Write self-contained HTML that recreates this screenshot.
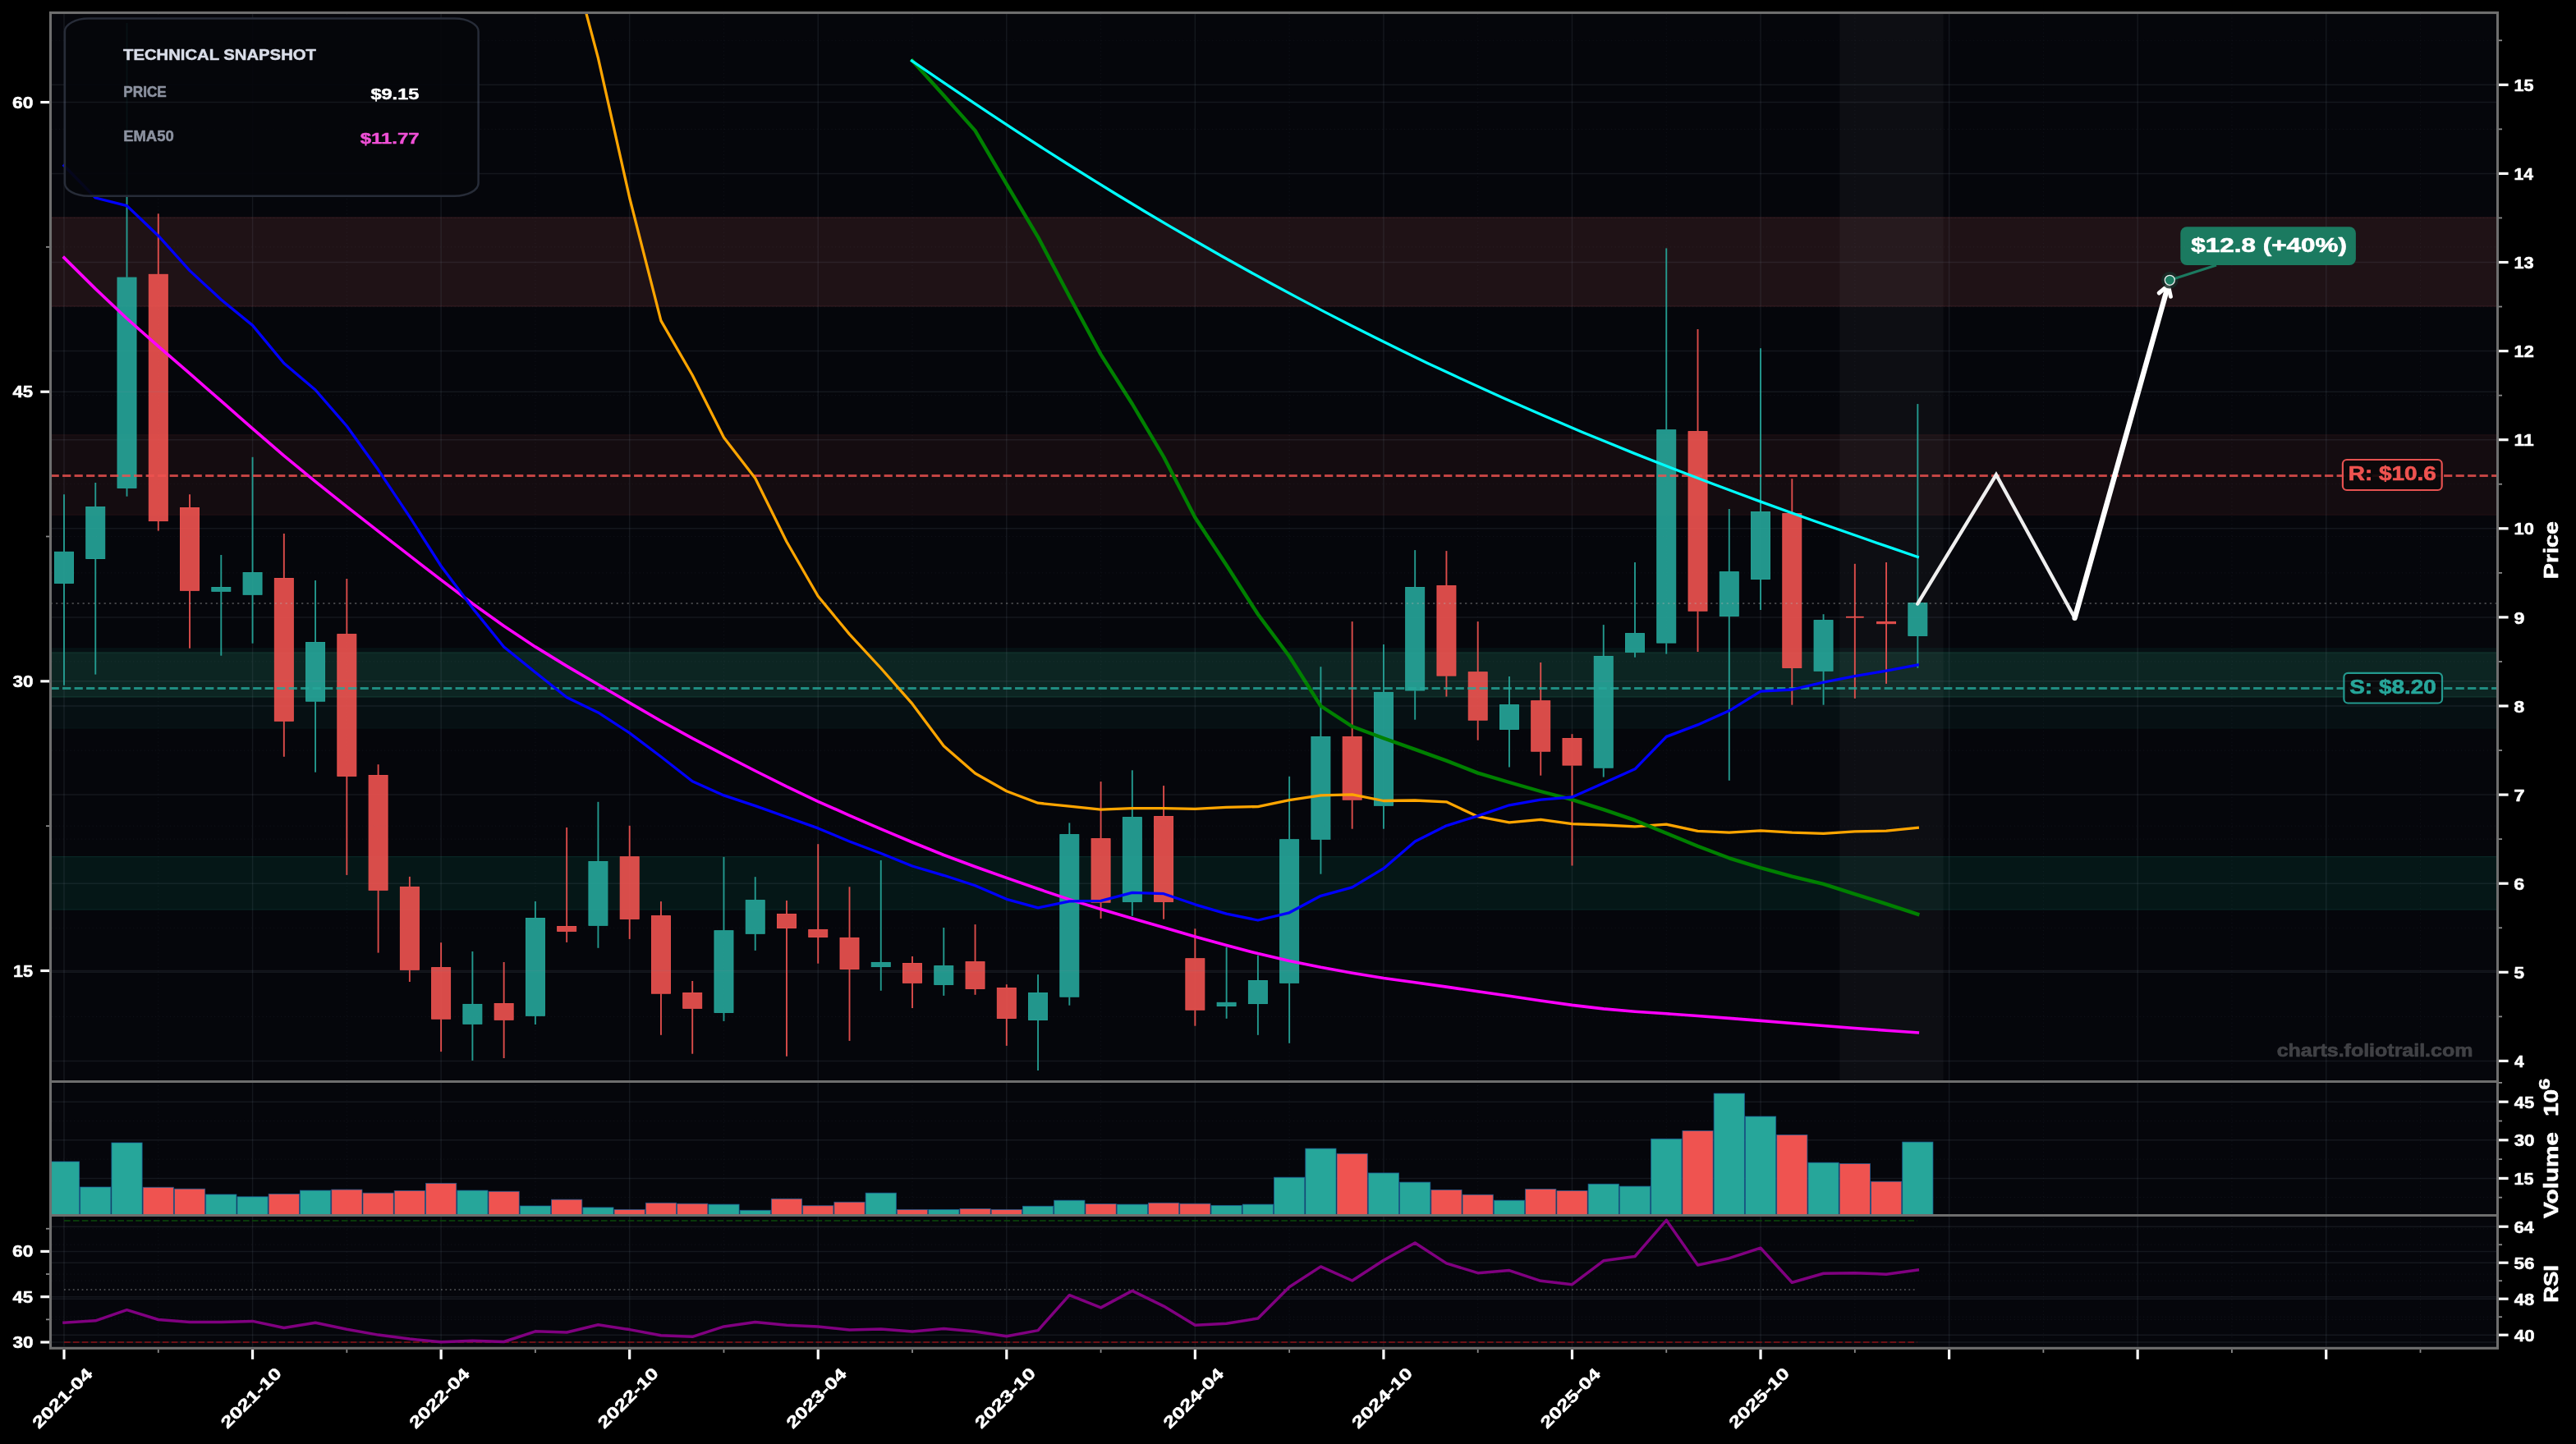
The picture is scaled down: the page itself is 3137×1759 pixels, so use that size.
<!DOCTYPE html><html><head><meta charset="utf-8"><title>chart</title><style>html,body{margin:0;padding:0;background:#000;overflow:hidden}svg{display:block;will-change:transform}</style></head><body><svg width="3137" height="1759" viewBox="0 0 3137 1759"><rect x="0" y="0" width="3137" height="1759" fill="#000"/>
<rect x="61.5" y="15.5" width="2980.0" height="1626.8" fill="#05060b"/>
<defs><clipPath id="cp"><rect x="63" y="17" width="2977" height="1299"/></clipPath><clipPath id="cv"><rect x="63" y="1319" width="2977" height="160.5"/></clipPath><clipPath id="cr"><rect x="63" y="1482" width="2977" height="158.5"/></clipPath></defs>
<rect x="63" y="265.2" width="2977" height="107.7" fill="rgb(31,18,22)"/>
<line x1="63" x2="3040" y1="265.2" y2="265.2" stroke="rgb(52,26,31)" stroke-width="1.2"/>
<line x1="63" x2="3040" y1="372.9" y2="372.9" stroke="rgb(52,26,31)" stroke-width="1.2"/>
<rect x="63" y="529.8" width="2977" height="97.4" fill="rgb(20,12,16)"/>
<line x1="63" x2="3040" y1="529.8" y2="529.8" stroke="rgb(30,15,19)" stroke-width="1.2"/>
<line x1="63" x2="3040" y1="627.2" y2="627.2" stroke="rgb(30,15,19)" stroke-width="1.2"/>
<rect x="63" y="790.2" width="2977" height="96.8" fill="rgb(6,16,19)"/>
<line x1="63" x2="3040" y1="790.2" y2="790.2" stroke="rgb(7,22,24)" stroke-width="1.2"/>
<line x1="63" x2="3040" y1="887.0" y2="887.0" stroke="rgb(7,22,24)" stroke-width="1.2"/>
<rect x="63" y="795.0" width="2977" height="53.8" fill="rgb(12,37,34)"/>
<line x1="63" x2="3040" y1="795.0" y2="795.0" stroke="rgb(19,56,49)" stroke-width="1.2"/>
<line x1="63" x2="3040" y1="848.8" y2="848.8" stroke="rgb(19,56,49)" stroke-width="1.2"/>
<rect x="63" y="1043.6" width="2977" height="64.2" fill="rgb(5,23,23)"/>
<line x1="63" x2="3040" y1="1043.6" y2="1043.6" stroke="rgb(9,38,36)" stroke-width="1.2"/>
<line x1="63" x2="3040" y1="1107.8" y2="1107.8" stroke="rgb(9,38,36)" stroke-width="1.2"/>
<rect x="2240.3" y="17" width="126.3" height="1299" fill="#fff" fill-opacity="0.035"/>
<line x1="78.00" x2="78.00" y1="17" y2="1640.5" stroke="#7d92a1" stroke-opacity="0.125" stroke-width="1.5"/>
<line x1="192.78" x2="192.78" y1="17" y2="1640.5" stroke="#7d92a1" stroke-opacity="0.08" stroke-width="1.2" stroke-dasharray="1.3 3.2"/>
<line x1="307.56" x2="307.56" y1="17" y2="1640.5" stroke="#7d92a1" stroke-opacity="0.125" stroke-width="1.5"/>
<line x1="422.34" x2="422.34" y1="17" y2="1640.5" stroke="#7d92a1" stroke-opacity="0.08" stroke-width="1.2" stroke-dasharray="1.3 3.2"/>
<line x1="537.12" x2="537.12" y1="17" y2="1640.5" stroke="#7d92a1" stroke-opacity="0.125" stroke-width="1.5"/>
<line x1="651.90" x2="651.90" y1="17" y2="1640.5" stroke="#7d92a1" stroke-opacity="0.08" stroke-width="1.2" stroke-dasharray="1.3 3.2"/>
<line x1="766.68" x2="766.68" y1="17" y2="1640.5" stroke="#7d92a1" stroke-opacity="0.125" stroke-width="1.5"/>
<line x1="881.46" x2="881.46" y1="17" y2="1640.5" stroke="#7d92a1" stroke-opacity="0.08" stroke-width="1.2" stroke-dasharray="1.3 3.2"/>
<line x1="996.24" x2="996.24" y1="17" y2="1640.5" stroke="#7d92a1" stroke-opacity="0.125" stroke-width="1.5"/>
<line x1="1111.02" x2="1111.02" y1="17" y2="1640.5" stroke="#7d92a1" stroke-opacity="0.08" stroke-width="1.2" stroke-dasharray="1.3 3.2"/>
<line x1="1225.80" x2="1225.80" y1="17" y2="1640.5" stroke="#7d92a1" stroke-opacity="0.125" stroke-width="1.5"/>
<line x1="1340.58" x2="1340.58" y1="17" y2="1640.5" stroke="#7d92a1" stroke-opacity="0.08" stroke-width="1.2" stroke-dasharray="1.3 3.2"/>
<line x1="1455.36" x2="1455.36" y1="17" y2="1640.5" stroke="#7d92a1" stroke-opacity="0.125" stroke-width="1.5"/>
<line x1="1570.14" x2="1570.14" y1="17" y2="1640.5" stroke="#7d92a1" stroke-opacity="0.08" stroke-width="1.2" stroke-dasharray="1.3 3.2"/>
<line x1="1684.92" x2="1684.92" y1="17" y2="1640.5" stroke="#7d92a1" stroke-opacity="0.125" stroke-width="1.5"/>
<line x1="1799.70" x2="1799.70" y1="17" y2="1640.5" stroke="#7d92a1" stroke-opacity="0.08" stroke-width="1.2" stroke-dasharray="1.3 3.2"/>
<line x1="1914.48" x2="1914.48" y1="17" y2="1640.5" stroke="#7d92a1" stroke-opacity="0.125" stroke-width="1.5"/>
<line x1="2029.26" x2="2029.26" y1="17" y2="1640.5" stroke="#7d92a1" stroke-opacity="0.08" stroke-width="1.2" stroke-dasharray="1.3 3.2"/>
<line x1="2144.04" x2="2144.04" y1="17" y2="1640.5" stroke="#7d92a1" stroke-opacity="0.125" stroke-width="1.5"/>
<line x1="2258.82" x2="2258.82" y1="17" y2="1640.5" stroke="#7d92a1" stroke-opacity="0.08" stroke-width="1.2" stroke-dasharray="1.3 3.2"/>
<line x1="2373.60" x2="2373.60" y1="17" y2="1640.5" stroke="#7d92a1" stroke-opacity="0.125" stroke-width="1.5"/>
<line x1="2488.38" x2="2488.38" y1="17" y2="1640.5" stroke="#7d92a1" stroke-opacity="0.08" stroke-width="1.2" stroke-dasharray="1.3 3.2"/>
<line x1="2603.16" x2="2603.16" y1="17" y2="1640.5" stroke="#7d92a1" stroke-opacity="0.125" stroke-width="1.5"/>
<line x1="2717.94" x2="2717.94" y1="17" y2="1640.5" stroke="#7d92a1" stroke-opacity="0.08" stroke-width="1.2" stroke-dasharray="1.3 3.2"/>
<line x1="2832.72" x2="2832.72" y1="17" y2="1640.5" stroke="#7d92a1" stroke-opacity="0.125" stroke-width="1.5"/>
<line x1="2947.50" x2="2947.50" y1="17" y2="1640.5" stroke="#7d92a1" stroke-opacity="0.08" stroke-width="1.2" stroke-dasharray="1.3 3.2"/>
<line x1="63" x2="3040" y1="1292.40" y2="1292.40" stroke="#7d92a1" stroke-opacity="0.125" stroke-width="1.5"/>
<line x1="63" x2="3040" y1="1184.30" y2="1184.30" stroke="#7d92a1" stroke-opacity="0.125" stroke-width="1.5"/>
<line x1="63" x2="3040" y1="1076.20" y2="1076.20" stroke="#7d92a1" stroke-opacity="0.125" stroke-width="1.5"/>
<line x1="63" x2="3040" y1="968.10" y2="968.10" stroke="#7d92a1" stroke-opacity="0.125" stroke-width="1.5"/>
<line x1="63" x2="3040" y1="860.00" y2="860.00" stroke="#7d92a1" stroke-opacity="0.125" stroke-width="1.5"/>
<line x1="63" x2="3040" y1="751.90" y2="751.90" stroke="#7d92a1" stroke-opacity="0.125" stroke-width="1.5"/>
<line x1="63" x2="3040" y1="643.80" y2="643.80" stroke="#7d92a1" stroke-opacity="0.125" stroke-width="1.5"/>
<line x1="63" x2="3040" y1="535.70" y2="535.70" stroke="#7d92a1" stroke-opacity="0.125" stroke-width="1.5"/>
<line x1="63" x2="3040" y1="427.60" y2="427.60" stroke="#7d92a1" stroke-opacity="0.125" stroke-width="1.5"/>
<line x1="63" x2="3040" y1="319.50" y2="319.50" stroke="#7d92a1" stroke-opacity="0.125" stroke-width="1.5"/>
<line x1="63" x2="3040" y1="211.40" y2="211.40" stroke="#7d92a1" stroke-opacity="0.125" stroke-width="1.5"/>
<line x1="63" x2="3040" y1="103.30" y2="103.30" stroke="#7d92a1" stroke-opacity="0.125" stroke-width="1.5"/>
<line x1="63" x2="3040" y1="1238.35" y2="1238.35" stroke="#7d92a1" stroke-opacity="0.08" stroke-width="1.2" stroke-dasharray="1.3 3.2"/>
<line x1="63" x2="3040" y1="1130.25" y2="1130.25" stroke="#7d92a1" stroke-opacity="0.08" stroke-width="1.2" stroke-dasharray="1.3 3.2"/>
<line x1="63" x2="3040" y1="1022.15" y2="1022.15" stroke="#7d92a1" stroke-opacity="0.08" stroke-width="1.2" stroke-dasharray="1.3 3.2"/>
<line x1="63" x2="3040" y1="914.05" y2="914.05" stroke="#7d92a1" stroke-opacity="0.08" stroke-width="1.2" stroke-dasharray="1.3 3.2"/>
<line x1="63" x2="3040" y1="805.95" y2="805.95" stroke="#7d92a1" stroke-opacity="0.08" stroke-width="1.2" stroke-dasharray="1.3 3.2"/>
<line x1="63" x2="3040" y1="697.85" y2="697.85" stroke="#7d92a1" stroke-opacity="0.08" stroke-width="1.2" stroke-dasharray="1.3 3.2"/>
<line x1="63" x2="3040" y1="589.75" y2="589.75" stroke="#7d92a1" stroke-opacity="0.08" stroke-width="1.2" stroke-dasharray="1.3 3.2"/>
<line x1="63" x2="3040" y1="481.65" y2="481.65" stroke="#7d92a1" stroke-opacity="0.08" stroke-width="1.2" stroke-dasharray="1.3 3.2"/>
<line x1="63" x2="3040" y1="373.55" y2="373.55" stroke="#7d92a1" stroke-opacity="0.08" stroke-width="1.2" stroke-dasharray="1.3 3.2"/>
<line x1="63" x2="3040" y1="265.45" y2="265.45" stroke="#7d92a1" stroke-opacity="0.08" stroke-width="1.2" stroke-dasharray="1.3 3.2"/>
<line x1="63" x2="3040" y1="157.35" y2="157.35" stroke="#7d92a1" stroke-opacity="0.08" stroke-width="1.2" stroke-dasharray="1.3 3.2"/>
<line x1="63" x2="3040" y1="49.25" y2="49.25" stroke="#7d92a1" stroke-opacity="0.08" stroke-width="1.2" stroke-dasharray="1.3 3.2"/>
<line x1="63" x2="3040" y1="1435.39" y2="1435.39" stroke="#7d92a1" stroke-opacity="0.125" stroke-width="1.5"/>
<line x1="63" x2="3040" y1="1388.79" y2="1388.79" stroke="#7d92a1" stroke-opacity="0.125" stroke-width="1.5"/>
<line x1="63" x2="3040" y1="1342.18" y2="1342.18" stroke="#7d92a1" stroke-opacity="0.125" stroke-width="1.5"/>
<line x1="63" x2="3040" y1="1458.70" y2="1458.70" stroke="#7d92a1" stroke-opacity="0.08" stroke-width="1.2" stroke-dasharray="1.3 3.2"/>
<line x1="63" x2="3040" y1="1412.09" y2="1412.09" stroke="#7d92a1" stroke-opacity="0.08" stroke-width="1.2" stroke-dasharray="1.3 3.2"/>
<line x1="63" x2="3040" y1="1365.49" y2="1365.49" stroke="#7d92a1" stroke-opacity="0.08" stroke-width="1.2" stroke-dasharray="1.3 3.2"/>
<line x1="63" x2="3040" y1="1635.00" y2="1635.00" stroke="#7d92a1" stroke-opacity="0.125" stroke-width="1.5"/>
<line x1="63" x2="3040" y1="1579.69" y2="1579.69" stroke="#7d92a1" stroke-opacity="0.125" stroke-width="1.5"/>
<line x1="63" x2="3040" y1="1524.39" y2="1524.39" stroke="#7d92a1" stroke-opacity="0.125" stroke-width="1.5"/>
<line x1="63" x2="3040" y1="1607.35" y2="1607.35" stroke="#7d92a1" stroke-opacity="0.08" stroke-width="1.2" stroke-dasharray="1.3 3.2"/>
<line x1="63" x2="3040" y1="1552.04" y2="1552.04" stroke="#7d92a1" stroke-opacity="0.08" stroke-width="1.2" stroke-dasharray="1.3 3.2"/>
<line x1="63" x2="3040" y1="1496.74" y2="1496.74" stroke="#7d92a1" stroke-opacity="0.08" stroke-width="1.2" stroke-dasharray="1.3 3.2"/>
<line x1="63" x2="3040" y1="1626.20" y2="1626.20" stroke="#7d92a1" stroke-opacity="0.125" stroke-width="1.5"/>
<line x1="63" x2="3040" y1="1582.20" y2="1582.20" stroke="#7d92a1" stroke-opacity="0.125" stroke-width="1.5"/>
<line x1="63" x2="3040" y1="1538.20" y2="1538.20" stroke="#7d92a1" stroke-opacity="0.125" stroke-width="1.5"/>
<line x1="63" x2="3040" y1="1494.20" y2="1494.20" stroke="#7d92a1" stroke-opacity="0.125" stroke-width="1.5"/>
<line x1="63" x2="3040" y1="1604.20" y2="1604.20" stroke="#7d92a1" stroke-opacity="0.08" stroke-width="1.2" stroke-dasharray="1.3 3.2"/>
<line x1="63" x2="3040" y1="1560.20" y2="1560.20" stroke="#7d92a1" stroke-opacity="0.08" stroke-width="1.2" stroke-dasharray="1.3 3.2"/>
<line x1="63" x2="3040" y1="1516.20" y2="1516.20" stroke="#7d92a1" stroke-opacity="0.08" stroke-width="1.2" stroke-dasharray="1.3 3.2"/>
<g clip-path="url(#cp)">
<line x1="78.00" x2="78.00" y1="602.2" y2="672" stroke="#26a69a" stroke-opacity="0.92" stroke-width="1.9"/>
<line x1="78.00" x2="78.00" y1="710.7" y2="834.8" stroke="#26a69a" stroke-opacity="0.92" stroke-width="1.9"/>
<rect x="66.50" y="672.3" width="23.0" height="38.1" fill="#26a69a" fill-opacity="0.9" stroke="#26a69a" stroke-opacity="1" stroke-width="0.9"/>
<line x1="116.26" x2="116.26" y1="588" y2="617.2" stroke="#26a69a" stroke-opacity="0.92" stroke-width="1.9"/>
<line x1="116.26" x2="116.26" y1="680.8" y2="821.6" stroke="#26a69a" stroke-opacity="0.92" stroke-width="1.9"/>
<rect x="104.76" y="617.5" width="23.0" height="63.0" fill="#26a69a" fill-opacity="0.9" stroke="#26a69a" stroke-opacity="1" stroke-width="0.9"/>
<line x1="154.52" x2="154.52" y1="28" y2="337.8" stroke="#26a69a" stroke-opacity="0.92" stroke-width="1.9"/>
<line x1="154.52" x2="154.52" y1="594.7" y2="604.7" stroke="#26a69a" stroke-opacity="0.92" stroke-width="1.9"/>
<rect x="143.02" y="338.1" width="23.0" height="256.3" fill="#26a69a" fill-opacity="0.9" stroke="#26a69a" stroke-opacity="1" stroke-width="0.9"/>
<line x1="192.78" x2="192.78" y1="260.3" y2="334" stroke="#ef5350" stroke-opacity="0.92" stroke-width="1.9"/>
<line x1="192.78" x2="192.78" y1="634.9" y2="646.6" stroke="#ef5350" stroke-opacity="0.92" stroke-width="1.9"/>
<rect x="181.28" y="334.3" width="23.0" height="300.3" fill="#ef5350" fill-opacity="0.9" stroke="#ef5350" stroke-opacity="1" stroke-width="0.9"/>
<line x1="231.04" x2="231.04" y1="602.2" y2="618.2" stroke="#ef5350" stroke-opacity="0.92" stroke-width="1.9"/>
<line x1="231.04" x2="231.04" y1="719.6" y2="789.7" stroke="#ef5350" stroke-opacity="0.92" stroke-width="1.9"/>
<rect x="219.54" y="618.5" width="23.0" height="100.8" fill="#ef5350" fill-opacity="0.9" stroke="#ef5350" stroke-opacity="1" stroke-width="0.9"/>
<line x1="269.30" x2="269.30" y1="676" y2="715.2" stroke="#26a69a" stroke-opacity="0.92" stroke-width="1.9"/>
<line x1="269.30" x2="269.30" y1="720.6" y2="798.7" stroke="#26a69a" stroke-opacity="0.92" stroke-width="1.9"/>
<rect x="257.80" y="715.5" width="23.0" height="4.8" fill="#26a69a" fill-opacity="0.9" stroke="#26a69a" stroke-opacity="1" stroke-width="0.9"/>
<line x1="307.56" x2="307.56" y1="556.8" y2="697.2" stroke="#26a69a" stroke-opacity="0.92" stroke-width="1.9"/>
<line x1="307.56" x2="307.56" y1="724.6" y2="783.7" stroke="#26a69a" stroke-opacity="0.92" stroke-width="1.9"/>
<rect x="296.06" y="697.5" width="23.0" height="26.8" fill="#26a69a" fill-opacity="0.9" stroke="#26a69a" stroke-opacity="1" stroke-width="0.9"/>
<line x1="345.82" x2="345.82" y1="650" y2="704.2" stroke="#ef5350" stroke-opacity="0.92" stroke-width="1.9"/>
<line x1="345.82" x2="345.82" y1="878.6" y2="921.8" stroke="#ef5350" stroke-opacity="0.92" stroke-width="1.9"/>
<rect x="334.32" y="704.5" width="23.0" height="173.8" fill="#ef5350" fill-opacity="0.9" stroke="#ef5350" stroke-opacity="1" stroke-width="0.9"/>
<line x1="384.08" x2="384.08" y1="707" y2="782.2" stroke="#26a69a" stroke-opacity="0.92" stroke-width="1.9"/>
<line x1="384.08" x2="384.08" y1="854.5" y2="940.7" stroke="#26a69a" stroke-opacity="0.92" stroke-width="1.9"/>
<rect x="372.58" y="782.5" width="23.0" height="71.7" fill="#26a69a" fill-opacity="0.9" stroke="#26a69a" stroke-opacity="1" stroke-width="0.9"/>
<line x1="422.34" x2="422.34" y1="705" y2="772.3" stroke="#ef5350" stroke-opacity="0.92" stroke-width="1.9"/>
<line x1="422.34" x2="422.34" y1="945.7" y2="1065.9" stroke="#ef5350" stroke-opacity="0.92" stroke-width="1.9"/>
<rect x="410.84" y="772.6" width="23.0" height="172.8" fill="#ef5350" fill-opacity="0.9" stroke="#ef5350" stroke-opacity="1" stroke-width="0.9"/>
<line x1="460.60" x2="460.60" y1="931.2" y2="944.2" stroke="#ef5350" stroke-opacity="0.92" stroke-width="1.9"/>
<line x1="460.60" x2="460.60" y1="1084.6" y2="1160.6" stroke="#ef5350" stroke-opacity="0.92" stroke-width="1.9"/>
<rect x="449.10" y="944.5" width="23.0" height="139.8" fill="#ef5350" fill-opacity="0.9" stroke="#ef5350" stroke-opacity="1" stroke-width="0.9"/>
<line x1="498.86" x2="498.86" y1="1067.9" y2="1080.1" stroke="#ef5350" stroke-opacity="0.92" stroke-width="1.9"/>
<line x1="498.86" x2="498.86" y1="1181.6" y2="1196" stroke="#ef5350" stroke-opacity="0.92" stroke-width="1.9"/>
<rect x="487.36" y="1080.4" width="23.0" height="100.9" fill="#ef5350" fill-opacity="0.9" stroke="#ef5350" stroke-opacity="1" stroke-width="0.9"/>
<line x1="537.12" x2="537.12" y1="1148.2" y2="1178.3" stroke="#ef5350" stroke-opacity="0.92" stroke-width="1.9"/>
<line x1="537.12" x2="537.12" y1="1241.5" y2="1281.1" stroke="#ef5350" stroke-opacity="0.92" stroke-width="1.9"/>
<rect x="525.62" y="1178.6" width="23.0" height="62.6" fill="#ef5350" fill-opacity="0.9" stroke="#ef5350" stroke-opacity="1" stroke-width="0.9"/>
<line x1="575.38" x2="575.38" y1="1159" y2="1223.1" stroke="#26a69a" stroke-opacity="0.92" stroke-width="1.9"/>
<line x1="575.38" x2="575.38" y1="1247.6" y2="1291.9" stroke="#26a69a" stroke-opacity="0.92" stroke-width="1.9"/>
<rect x="563.88" y="1223.4" width="23.0" height="23.9" fill="#26a69a" fill-opacity="0.9" stroke="#26a69a" stroke-opacity="1" stroke-width="0.9"/>
<line x1="613.64" x2="613.64" y1="1172" y2="1222.2" stroke="#ef5350" stroke-opacity="0.92" stroke-width="1.9"/>
<line x1="613.64" x2="613.64" y1="1242.6" y2="1289" stroke="#ef5350" stroke-opacity="0.92" stroke-width="1.9"/>
<rect x="602.14" y="1222.5" width="23.0" height="19.8" fill="#ef5350" fill-opacity="0.9" stroke="#ef5350" stroke-opacity="1" stroke-width="0.9"/>
<line x1="651.90" x2="651.90" y1="1098" y2="1118.2" stroke="#26a69a" stroke-opacity="0.92" stroke-width="1.9"/>
<line x1="651.90" x2="651.90" y1="1237.6" y2="1248" stroke="#26a69a" stroke-opacity="0.92" stroke-width="1.9"/>
<rect x="640.40" y="1118.5" width="23.0" height="118.8" fill="#26a69a" fill-opacity="0.9" stroke="#26a69a" stroke-opacity="1" stroke-width="0.9"/>
<line x1="690.16" x2="690.16" y1="1008" y2="1128.2" stroke="#ef5350" stroke-opacity="0.92" stroke-width="1.9"/>
<line x1="690.16" x2="690.16" y1="1134.7" y2="1147.9" stroke="#ef5350" stroke-opacity="0.92" stroke-width="1.9"/>
<rect x="678.66" y="1128.5" width="23.0" height="5.9" fill="#ef5350" fill-opacity="0.9" stroke="#ef5350" stroke-opacity="1" stroke-width="0.9"/>
<line x1="728.42" x2="728.42" y1="976.8" y2="1049.2" stroke="#26a69a" stroke-opacity="0.92" stroke-width="1.9"/>
<line x1="728.42" x2="728.42" y1="1127.6" y2="1154.8" stroke="#26a69a" stroke-opacity="0.92" stroke-width="1.9"/>
<rect x="716.92" y="1049.5" width="23.0" height="77.8" fill="#26a69a" fill-opacity="0.9" stroke="#26a69a" stroke-opacity="1" stroke-width="0.9"/>
<line x1="766.68" x2="766.68" y1="1005.8" y2="1043.4" stroke="#ef5350" stroke-opacity="0.92" stroke-width="1.9"/>
<line x1="766.68" x2="766.68" y1="1119.7" y2="1143.9" stroke="#ef5350" stroke-opacity="0.92" stroke-width="1.9"/>
<rect x="755.18" y="1043.7" width="23.0" height="75.7" fill="#ef5350" fill-opacity="0.9" stroke="#ef5350" stroke-opacity="1" stroke-width="0.9"/>
<line x1="804.94" x2="804.94" y1="1098.1" y2="1115.3" stroke="#ef5350" stroke-opacity="0.92" stroke-width="1.9"/>
<line x1="804.94" x2="804.94" y1="1210.5" y2="1260.8" stroke="#ef5350" stroke-opacity="0.92" stroke-width="1.9"/>
<rect x="793.44" y="1115.6" width="23.0" height="94.6" fill="#ef5350" fill-opacity="0.9" stroke="#ef5350" stroke-opacity="1" stroke-width="0.9"/>
<line x1="843.20" x2="843.20" y1="1195" y2="1209.2" stroke="#ef5350" stroke-opacity="0.92" stroke-width="1.9"/>
<line x1="843.20" x2="843.20" y1="1228.6" y2="1283.7" stroke="#ef5350" stroke-opacity="0.92" stroke-width="1.9"/>
<rect x="831.70" y="1209.5" width="23.0" height="18.8" fill="#ef5350" fill-opacity="0.9" stroke="#ef5350" stroke-opacity="1" stroke-width="0.9"/>
<line x1="881.46" x2="881.46" y1="1043.9" y2="1133.4" stroke="#26a69a" stroke-opacity="0.92" stroke-width="1.9"/>
<line x1="881.46" x2="881.46" y1="1233.7" y2="1243.9" stroke="#26a69a" stroke-opacity="0.92" stroke-width="1.9"/>
<rect x="869.96" y="1133.7" width="23.0" height="99.7" fill="#26a69a" fill-opacity="0.9" stroke="#26a69a" stroke-opacity="1" stroke-width="0.9"/>
<line x1="919.72" x2="919.72" y1="1068.2" y2="1096.3" stroke="#26a69a" stroke-opacity="0.92" stroke-width="1.9"/>
<line x1="919.72" x2="919.72" y1="1137.6" y2="1157.9" stroke="#26a69a" stroke-opacity="0.92" stroke-width="1.9"/>
<rect x="908.22" y="1096.6" width="23.0" height="40.7" fill="#26a69a" fill-opacity="0.9" stroke="#26a69a" stroke-opacity="1" stroke-width="0.9"/>
<line x1="957.98" x2="957.98" y1="1097.1" y2="1113.2" stroke="#ef5350" stroke-opacity="0.92" stroke-width="1.9"/>
<line x1="957.98" x2="957.98" y1="1130.8" y2="1286.8" stroke="#ef5350" stroke-opacity="0.92" stroke-width="1.9"/>
<rect x="946.48" y="1113.5" width="23.0" height="17.0" fill="#ef5350" fill-opacity="0.9" stroke="#ef5350" stroke-opacity="1" stroke-width="0.9"/>
<line x1="996.24" x2="996.24" y1="1028.2" y2="1132.1" stroke="#ef5350" stroke-opacity="0.92" stroke-width="1.9"/>
<line x1="996.24" x2="996.24" y1="1141.8" y2="1173.7" stroke="#ef5350" stroke-opacity="0.92" stroke-width="1.9"/>
<rect x="984.74" y="1132.4" width="23.0" height="9.1" fill="#ef5350" fill-opacity="0.9" stroke="#ef5350" stroke-opacity="1" stroke-width="0.9"/>
<line x1="1034.50" x2="1034.50" y1="1080.3" y2="1142.1" stroke="#ef5350" stroke-opacity="0.92" stroke-width="1.9"/>
<line x1="1034.50" x2="1034.50" y1="1180.8" y2="1267.9" stroke="#ef5350" stroke-opacity="0.92" stroke-width="1.9"/>
<rect x="1023.00" y="1142.4" width="23.0" height="38.1" fill="#ef5350" fill-opacity="0.9" stroke="#ef5350" stroke-opacity="1" stroke-width="0.9"/>
<line x1="1072.76" x2="1072.76" y1="1047.9" y2="1172.1" stroke="#26a69a" stroke-opacity="0.92" stroke-width="1.9"/>
<line x1="1072.76" x2="1072.76" y1="1177.9" y2="1206.8" stroke="#26a69a" stroke-opacity="0.92" stroke-width="1.9"/>
<rect x="1061.26" y="1172.4" width="23.0" height="5.2" fill="#26a69a" fill-opacity="0.9" stroke="#26a69a" stroke-opacity="1" stroke-width="0.9"/>
<line x1="1111.02" x2="1111.02" y1="1165" y2="1173.2" stroke="#ef5350" stroke-opacity="0.92" stroke-width="1.9"/>
<line x1="1111.02" x2="1111.02" y1="1197.6" y2="1227.9" stroke="#ef5350" stroke-opacity="0.92" stroke-width="1.9"/>
<rect x="1099.52" y="1173.5" width="23.0" height="23.8" fill="#ef5350" fill-opacity="0.9" stroke="#ef5350" stroke-opacity="1" stroke-width="0.9"/>
<line x1="1149.28" x2="1149.28" y1="1130" y2="1176.3" stroke="#26a69a" stroke-opacity="0.92" stroke-width="1.9"/>
<line x1="1149.28" x2="1149.28" y1="1199.7" y2="1212.9" stroke="#26a69a" stroke-opacity="0.92" stroke-width="1.9"/>
<rect x="1137.78" y="1176.6" width="23.0" height="22.8" fill="#26a69a" fill-opacity="0.9" stroke="#26a69a" stroke-opacity="1" stroke-width="0.9"/>
<line x1="1187.54" x2="1187.54" y1="1126.1" y2="1171.3" stroke="#ef5350" stroke-opacity="0.92" stroke-width="1.9"/>
<line x1="1187.54" x2="1187.54" y1="1204.7" y2="1211.8" stroke="#ef5350" stroke-opacity="0.92" stroke-width="1.9"/>
<rect x="1176.04" y="1171.6" width="23.0" height="32.8" fill="#ef5350" fill-opacity="0.9" stroke="#ef5350" stroke-opacity="1" stroke-width="0.9"/>
<line x1="1225.80" x2="1225.80" y1="1199.2" y2="1203.2" stroke="#ef5350" stroke-opacity="0.92" stroke-width="1.9"/>
<line x1="1225.80" x2="1225.80" y1="1240.8" y2="1273.9" stroke="#ef5350" stroke-opacity="0.92" stroke-width="1.9"/>
<rect x="1214.30" y="1203.5" width="23.0" height="37.0" fill="#ef5350" fill-opacity="0.9" stroke="#ef5350" stroke-opacity="1" stroke-width="0.9"/>
<line x1="1264.06" x2="1264.06" y1="1187.1" y2="1209.2" stroke="#26a69a" stroke-opacity="0.92" stroke-width="1.9"/>
<line x1="1264.06" x2="1264.06" y1="1242.8" y2="1304" stroke="#26a69a" stroke-opacity="0.92" stroke-width="1.9"/>
<rect x="1252.56" y="1209.5" width="23.0" height="33.0" fill="#26a69a" fill-opacity="0.9" stroke="#26a69a" stroke-opacity="1" stroke-width="0.9"/>
<line x1="1302.32" x2="1302.32" y1="1002.4" y2="1016.3" stroke="#26a69a" stroke-opacity="0.92" stroke-width="1.9"/>
<line x1="1302.32" x2="1302.32" y1="1214.5" y2="1224.7" stroke="#26a69a" stroke-opacity="0.92" stroke-width="1.9"/>
<rect x="1290.82" y="1016.6" width="23.0" height="197.6" fill="#26a69a" fill-opacity="0.9" stroke="#26a69a" stroke-opacity="1" stroke-width="0.9"/>
<line x1="1340.58" x2="1340.58" y1="952.1" y2="1021.3" stroke="#ef5350" stroke-opacity="0.92" stroke-width="1.9"/>
<line x1="1340.58" x2="1340.58" y1="1099.5" y2="1118.9" stroke="#ef5350" stroke-opacity="0.92" stroke-width="1.9"/>
<rect x="1329.08" y="1021.6" width="23.0" height="77.6" fill="#ef5350" fill-opacity="0.9" stroke="#ef5350" stroke-opacity="1" stroke-width="0.9"/>
<line x1="1378.84" x2="1378.84" y1="938.3" y2="995.3" stroke="#26a69a" stroke-opacity="0.92" stroke-width="1.9"/>
<line x1="1378.84" x2="1378.84" y1="1098.7" y2="1115.8" stroke="#26a69a" stroke-opacity="0.92" stroke-width="1.9"/>
<rect x="1367.34" y="995.6" width="23.0" height="102.8" fill="#26a69a" fill-opacity="0.9" stroke="#26a69a" stroke-opacity="1" stroke-width="0.9"/>
<line x1="1417.10" x2="1417.10" y1="957.1" y2="994.2" stroke="#ef5350" stroke-opacity="0.92" stroke-width="1.9"/>
<line x1="1417.10" x2="1417.10" y1="1098.7" y2="1119.7" stroke="#ef5350" stroke-opacity="0.92" stroke-width="1.9"/>
<rect x="1405.60" y="994.5" width="23.0" height="103.9" fill="#ef5350" fill-opacity="0.9" stroke="#ef5350" stroke-opacity="1" stroke-width="0.9"/>
<line x1="1455.36" x2="1455.36" y1="1131.3" y2="1167.4" stroke="#ef5350" stroke-opacity="0.92" stroke-width="1.9"/>
<line x1="1455.36" x2="1455.36" y1="1230.5" y2="1249.7" stroke="#ef5350" stroke-opacity="0.92" stroke-width="1.9"/>
<rect x="1443.86" y="1167.7" width="23.0" height="62.5" fill="#ef5350" fill-opacity="0.9" stroke="#ef5350" stroke-opacity="1" stroke-width="0.9"/>
<line x1="1493.62" x2="1493.62" y1="1153.7" y2="1221" stroke="#26a69a" stroke-opacity="0.92" stroke-width="1.9"/>
<line x1="1493.62" x2="1493.62" y1="1225.8" y2="1240.8" stroke="#26a69a" stroke-opacity="0.92" stroke-width="1.9"/>
<rect x="1482.12" y="1221.3" width="23.0" height="4.2" fill="#26a69a" fill-opacity="0.9" stroke="#26a69a" stroke-opacity="1" stroke-width="0.9"/>
<line x1="1531.88" x2="1531.88" y1="1163.7" y2="1194.2" stroke="#26a69a" stroke-opacity="0.92" stroke-width="1.9"/>
<line x1="1531.88" x2="1531.88" y1="1222.9" y2="1260.8" stroke="#26a69a" stroke-opacity="0.92" stroke-width="1.9"/>
<rect x="1520.38" y="1194.5" width="23.0" height="28.1" fill="#26a69a" fill-opacity="0.9" stroke="#26a69a" stroke-opacity="1" stroke-width="0.9"/>
<line x1="1570.14" x2="1570.14" y1="945.8" y2="1022.4" stroke="#26a69a" stroke-opacity="0.92" stroke-width="1.9"/>
<line x1="1570.14" x2="1570.14" y1="1197.6" y2="1270.8" stroke="#26a69a" stroke-opacity="0.92" stroke-width="1.9"/>
<rect x="1558.64" y="1022.7" width="23.0" height="174.6" fill="#26a69a" fill-opacity="0.9" stroke="#26a69a" stroke-opacity="1" stroke-width="0.9"/>
<line x1="1608.40" x2="1608.40" y1="812.2" y2="897.2" stroke="#26a69a" stroke-opacity="0.92" stroke-width="1.9"/>
<line x1="1608.40" x2="1608.40" y1="1022.6" y2="1064.7" stroke="#26a69a" stroke-opacity="0.92" stroke-width="1.9"/>
<rect x="1596.90" y="897.5" width="23.0" height="124.8" fill="#26a69a" fill-opacity="0.9" stroke="#26a69a" stroke-opacity="1" stroke-width="0.9"/>
<line x1="1646.66" x2="1646.66" y1="757.1" y2="897.2" stroke="#ef5350" stroke-opacity="0.92" stroke-width="1.9"/>
<line x1="1646.66" x2="1646.66" y1="974.5" y2="1009.7" stroke="#ef5350" stroke-opacity="0.92" stroke-width="1.9"/>
<rect x="1635.16" y="897.5" width="23.0" height="76.7" fill="#ef5350" fill-opacity="0.9" stroke="#ef5350" stroke-opacity="1" stroke-width="0.9"/>
<line x1="1684.92" x2="1684.92" y1="785" y2="843.1" stroke="#26a69a" stroke-opacity="0.92" stroke-width="1.9"/>
<line x1="1684.92" x2="1684.92" y1="981.6" y2="1009.7" stroke="#26a69a" stroke-opacity="0.92" stroke-width="1.9"/>
<rect x="1673.42" y="843.4" width="23.0" height="137.9" fill="#26a69a" fill-opacity="0.9" stroke="#26a69a" stroke-opacity="1" stroke-width="0.9"/>
<line x1="1723.18" x2="1723.18" y1="670.1" y2="715.2" stroke="#26a69a" stroke-opacity="0.92" stroke-width="1.9"/>
<line x1="1723.18" x2="1723.18" y1="841.3" y2="876.7" stroke="#26a69a" stroke-opacity="0.92" stroke-width="1.9"/>
<rect x="1711.68" y="715.5" width="23.0" height="125.5" fill="#26a69a" fill-opacity="0.9" stroke="#26a69a" stroke-opacity="1" stroke-width="0.9"/>
<line x1="1761.44" x2="1761.44" y1="671.1" y2="713.2" stroke="#ef5350" stroke-opacity="0.92" stroke-width="1.9"/>
<line x1="1761.44" x2="1761.44" y1="823.4" y2="848.6" stroke="#ef5350" stroke-opacity="0.92" stroke-width="1.9"/>
<rect x="1749.94" y="713.5" width="23.0" height="109.6" fill="#ef5350" fill-opacity="0.9" stroke="#ef5350" stroke-opacity="1" stroke-width="0.9"/>
<line x1="1799.70" x2="1799.70" y1="757.1" y2="818.4" stroke="#ef5350" stroke-opacity="0.92" stroke-width="1.9"/>
<line x1="1799.70" x2="1799.70" y1="877.5" y2="901.7" stroke="#ef5350" stroke-opacity="0.92" stroke-width="1.9"/>
<rect x="1788.20" y="818.7" width="23.0" height="58.5" fill="#ef5350" fill-opacity="0.9" stroke="#ef5350" stroke-opacity="1" stroke-width="0.9"/>
<line x1="1837.96" x2="1837.96" y1="824.1" y2="858.3" stroke="#26a69a" stroke-opacity="0.92" stroke-width="1.9"/>
<line x1="1837.96" x2="1837.96" y1="888.7" y2="934.6" stroke="#26a69a" stroke-opacity="0.92" stroke-width="1.9"/>
<rect x="1826.46" y="858.6" width="23.0" height="29.8" fill="#26a69a" fill-opacity="0.9" stroke="#26a69a" stroke-opacity="1" stroke-width="0.9"/>
<line x1="1876.22" x2="1876.22" y1="807" y2="853.4" stroke="#ef5350" stroke-opacity="0.92" stroke-width="1.9"/>
<line x1="1876.22" x2="1876.22" y1="915.5" y2="944.7" stroke="#ef5350" stroke-opacity="0.92" stroke-width="1.9"/>
<rect x="1864.72" y="853.7" width="23.0" height="61.5" fill="#ef5350" fill-opacity="0.9" stroke="#ef5350" stroke-opacity="1" stroke-width="0.9"/>
<line x1="1914.48" x2="1914.48" y1="894.2" y2="899.2" stroke="#ef5350" stroke-opacity="0.92" stroke-width="1.9"/>
<line x1="1914.48" x2="1914.48" y1="932.4" y2="1054.5" stroke="#ef5350" stroke-opacity="0.92" stroke-width="1.9"/>
<rect x="1902.98" y="899.5" width="23.0" height="32.6" fill="#ef5350" fill-opacity="0.9" stroke="#ef5350" stroke-opacity="1" stroke-width="0.9"/>
<line x1="1952.74" x2="1952.74" y1="761.1" y2="799.2" stroke="#26a69a" stroke-opacity="0.92" stroke-width="1.9"/>
<line x1="1952.74" x2="1952.74" y1="935.5" y2="946.6" stroke="#26a69a" stroke-opacity="0.92" stroke-width="1.9"/>
<rect x="1941.24" y="799.5" width="23.0" height="135.7" fill="#26a69a" fill-opacity="0.9" stroke="#26a69a" stroke-opacity="1" stroke-width="0.9"/>
<line x1="1991.00" x2="1991.00" y1="685" y2="771.3" stroke="#26a69a" stroke-opacity="0.92" stroke-width="1.9"/>
<line x1="1991.00" x2="1991.00" y1="794.7" y2="800.8" stroke="#26a69a" stroke-opacity="0.92" stroke-width="1.9"/>
<rect x="1979.50" y="771.6" width="23.0" height="22.8" fill="#26a69a" fill-opacity="0.9" stroke="#26a69a" stroke-opacity="1" stroke-width="0.9"/>
<line x1="2029.26" x2="2029.26" y1="302.4" y2="523.4" stroke="#26a69a" stroke-opacity="0.92" stroke-width="1.9"/>
<line x1="2029.26" x2="2029.26" y1="783.4" y2="796.6" stroke="#26a69a" stroke-opacity="0.92" stroke-width="1.9"/>
<rect x="2017.76" y="523.7" width="23.0" height="259.4" fill="#26a69a" fill-opacity="0.9" stroke="#26a69a" stroke-opacity="1" stroke-width="0.9"/>
<line x1="2067.52" x2="2067.52" y1="401" y2="525.3" stroke="#ef5350" stroke-opacity="0.92" stroke-width="1.9"/>
<line x1="2067.52" x2="2067.52" y1="744.5" y2="794" stroke="#ef5350" stroke-opacity="0.92" stroke-width="1.9"/>
<rect x="2056.02" y="525.6" width="23.0" height="218.6" fill="#ef5350" fill-opacity="0.9" stroke="#ef5350" stroke-opacity="1" stroke-width="0.9"/>
<line x1="2105.78" x2="2105.78" y1="620" y2="696.3" stroke="#26a69a" stroke-opacity="0.92" stroke-width="1.9"/>
<line x1="2105.78" x2="2105.78" y1="750.8" y2="950.8" stroke="#26a69a" stroke-opacity="0.92" stroke-width="1.9"/>
<rect x="2094.28" y="696.6" width="23.0" height="53.9" fill="#26a69a" fill-opacity="0.9" stroke="#26a69a" stroke-opacity="1" stroke-width="0.9"/>
<line x1="2144.04" x2="2144.04" y1="424.2" y2="623.2" stroke="#26a69a" stroke-opacity="0.92" stroke-width="1.9"/>
<line x1="2144.04" x2="2144.04" y1="705.8" y2="742.9" stroke="#26a69a" stroke-opacity="0.92" stroke-width="1.9"/>
<rect x="2132.54" y="623.5" width="23.0" height="82.0" fill="#26a69a" fill-opacity="0.9" stroke="#26a69a" stroke-opacity="1" stroke-width="0.9"/>
<line x1="2182.30" x2="2182.30" y1="583.2" y2="625.3" stroke="#ef5350" stroke-opacity="0.92" stroke-width="1.9"/>
<line x1="2182.30" x2="2182.30" y1="813.7" y2="858.7" stroke="#ef5350" stroke-opacity="0.92" stroke-width="1.9"/>
<rect x="2170.80" y="625.6" width="23.0" height="187.8" fill="#ef5350" fill-opacity="0.9" stroke="#ef5350" stroke-opacity="1" stroke-width="0.9"/>
<line x1="2220.56" x2="2220.56" y1="748.2" y2="755.3" stroke="#26a69a" stroke-opacity="0.92" stroke-width="1.9"/>
<line x1="2220.56" x2="2220.56" y1="817.6" y2="858.7" stroke="#26a69a" stroke-opacity="0.92" stroke-width="1.9"/>
<rect x="2209.06" y="755.6" width="23.0" height="61.7" fill="#26a69a" fill-opacity="0.9" stroke="#26a69a" stroke-opacity="1" stroke-width="0.9"/>
<line x1="2258.82" x2="2258.82" y1="686.8" y2="751.0" stroke="#ef5350" stroke-opacity="0.92" stroke-width="1.9"/>
<line x1="2258.82" x2="2258.82" y1="752.4" y2="850.8" stroke="#ef5350" stroke-opacity="0.92" stroke-width="1.9"/>
<rect x="2248.42" y="751.3" width="20.8" height="0.8" fill="#ef5350" fill-opacity="0.9" stroke="#ef5350" stroke-opacity="1" stroke-width="0.9"/>
<line x1="2297.08" x2="2297.08" y1="685" y2="757.1" stroke="#ef5350" stroke-opacity="0.92" stroke-width="1.9"/>
<line x1="2297.08" x2="2297.08" y1="760" y2="832.9" stroke="#ef5350" stroke-opacity="0.92" stroke-width="1.9"/>
<rect x="2285.58" y="757.4" width="23.0" height="2.3" fill="#ef5350" fill-opacity="0.9" stroke="#ef5350" stroke-opacity="1" stroke-width="0.9"/>
<line x1="2335.34" x2="2335.34" y1="492.1" y2="734.2" stroke="#26a69a" stroke-opacity="0.92" stroke-width="1.9"/>
<line x1="2335.34" x2="2335.34" y1="774.7" y2="813.7" stroke="#26a69a" stroke-opacity="0.92" stroke-width="1.9"/>
<rect x="2323.84" y="734.5" width="23.0" height="39.9" fill="#26a69a" fill-opacity="0.9" stroke="#26a69a" stroke-opacity="1" stroke-width="0.9"/>
<line x1="61.6" x2="3040" y1="735" y2="735" stroke="#b0b0b0" stroke-opacity="0.36" stroke-width="2.2" stroke-dasharray="2.2 4.3"/>
<line x1="61.6" x2="3040" y1="579.5" y2="579.5" stroke="#ef5350" stroke-opacity="0.8" stroke-width="2.9" stroke-dasharray="10.2 4.3"/>
<line x1="61.6" x2="3040" y1="838.5" y2="838.5" stroke="#26a69a" stroke-opacity="0.8" stroke-width="2.9" stroke-dasharray="10.2 4.3"/>
<polyline points="690.2,-73.0 728.4,70.6 766.7,241.0 804.9,390.6 843.2,457.0 881.5,533.0 919.7,582.4 958.0,660.0 996.2,726.3 1034.5,772.6 1072.8,814.0 1111.0,857.4 1149.3,908.7 1187.5,942.0 1225.8,963.7 1264.1,978.2 1302.3,982.1 1340.6,986.1 1378.8,984.7 1417.1,984.7 1455.4,985.3 1493.6,983.4 1531.9,982.6 1570.1,974.7 1608.4,968.9 1646.7,967.9 1684.9,975.5 1723.2,975.0 1761.4,976.8 1799.7,994.7 1838.0,1001.8 1876.2,998.4 1914.5,1003.7 1952.7,1005.0 1991.0,1006.8 2029.3,1004.2 2067.5,1012.4 2105.8,1014.2 2144.0,1011.8 2182.3,1014.2 2220.6,1015.3 2258.8,1012.9 2297.1,1012.1 2335.3,1008.2" fill="none" stroke="#ffa500" stroke-width="3.3" stroke-linecap="square" stroke-linejoin="round" />
<polyline points="1111.0,74.0 1149.3,116.3 1187.5,159.1 1225.8,224.4 1264.1,288.8 1302.3,361.0 1340.6,431.9 1378.8,492.0 1417.1,556.5 1455.4,630.5 1493.6,688.5 1531.9,748.3 1570.1,799.5 1608.4,860.0 1646.7,885.0 1684.9,899.2 1723.2,912.9 1761.4,926.6 1799.7,941.6 1838.0,953.0 1876.2,964.0 1914.5,974.2 1952.7,986.1 1991.0,999.2 2029.3,1015.0 2067.5,1030.8 2105.8,1045.3 2144.0,1057.1 2182.3,1067.6 2220.6,1076.8 2258.8,1089.2 2297.1,1101.1 2335.3,1113.7" fill="none" stroke="#008000" stroke-width="4.4" stroke-linecap="square" stroke-linejoin="round" />
<polyline points="1110.5,74.0 1141.9,95.6 1173.3,116.9 1204.7,137.9 1236.1,158.6 1267.5,179.0 1298.9,199.0 1330.3,218.7 1361.7,238.0 1393.1,257.0 1424.6,275.6 1456.0,293.8 1487.4,311.8 1518.8,329.3 1550.2,346.5 1581.6,363.4 1613.0,379.9 1644.4,396.0 1675.8,411.8 1707.2,427.2 1738.6,442.4 1770.0,457.1 1801.4,471.6 1832.8,485.8 1864.2,499.6 1895.6,513.1 1927.0,526.4 1958.4,539.3 1989.8,552.1 2021.2,564.5 2052.7,576.7 2084.1,588.7 2115.5,600.5 2146.9,612.1 2178.3,623.5 2209.7,634.7 2241.1,645.8 2272.5,656.8 2303.9,667.6 2335.3,678.4" fill="none" stroke="#00ffff" stroke-width="3.3" stroke-linecap="square" stroke-linejoin="round" />
<polyline points="78.0,313.9 116.3,351.9 154.5,388.0 192.8,421.9 231.0,454.9 269.3,488.4 307.6,522.2 345.8,555.2 384.1,586.7 422.3,617.1 460.6,647.1 498.9,676.9 537.1,706.4 575.4,735.2 613.6,762.5 651.9,787.9 690.2,811.4 728.4,833.8 766.7,856.1 804.9,878.2 843.2,899.4 881.5,919.4 919.7,939.0 958.0,958.2 996.2,976.3 1034.5,993.3 1072.8,1009.8 1111.0,1026.0 1149.3,1041.5 1187.5,1055.8 1225.8,1069.4 1264.1,1082.8 1302.3,1095.6 1340.6,1107.5 1378.8,1118.7 1417.1,1129.8 1455.4,1140.9 1493.6,1151.6 1531.9,1161.6 1570.1,1170.4 1608.4,1178.3 1646.7,1185.3 1684.9,1191.5 1723.2,1196.8 1761.4,1202.1 1799.7,1207.7 1838.0,1213.3 1876.2,1219.0 1914.5,1224.4 1952.7,1228.9 1991.0,1232.2 2029.3,1234.8 2067.5,1237.5 2105.8,1240.4 2144.0,1243.4 2182.3,1246.5 2220.6,1249.5 2258.8,1252.5 2297.1,1255.2 2335.3,1257.9" fill="none" stroke="#ff00ff" stroke-width="3.6" stroke-linecap="square" stroke-linejoin="round" />
<polyline points="78.0,201.7 116.3,241.0 154.5,250.6 192.8,287.2 231.0,329.6 269.3,365.0 307.6,396.4 345.8,442.5 384.1,475.0 422.3,519.0 460.6,572.3 498.9,629.6 537.1,689.5 575.4,740.6 613.6,788.0 651.9,819.0 690.2,849.5 728.4,867.9 766.7,892.9 804.9,921.8 843.2,951.8 881.5,968.9 919.7,981.6 958.0,995.3 996.2,1008.9 1034.5,1025.0 1072.8,1039.5 1111.0,1055.0 1149.3,1066.3 1187.5,1078.7 1225.8,1095.3 1264.1,1105.8 1302.3,1097.9 1340.6,1097.4 1378.8,1087.4 1417.1,1088.7 1455.4,1101.8 1493.6,1113.2 1531.9,1121.0 1570.1,1111.8 1608.4,1091.3 1646.7,1080.8 1684.9,1057.9 1723.2,1025.0 1761.4,1005.8 1799.7,993.9 1838.0,980.8 1876.2,974.2 1914.5,971.0 1952.7,953.9 1991.0,936.8 2029.3,897.4 2067.5,882.9 2105.8,865.8 2144.0,842.1 2182.3,840.0 2220.6,831.1 2258.8,823.7 2297.1,817.1 2335.3,810.0" fill="none" stroke="#0000ff" stroke-width="3.3" stroke-linecap="square" stroke-linejoin="round" />
<polyline points="2335.1,735.6 2430.9,578.3 2526.6,752.8" fill="none" stroke="#efefef" stroke-width="4.3" stroke-linecap="round" stroke-linejoin="miter" />
<polyline points="2526.6,752.8 2639.8,349.5" fill="none" stroke="#fff" stroke-width="6.4" stroke-linecap="round" stroke-linejoin="round" />
<polyline points="2629.2,357.0 2640.4,347.6 2643.4,361.2" fill="none" stroke="#fff" stroke-width="5.0" stroke-linecap="round" stroke-linejoin="round" />
<circle cx="2642.3" cy="341.3" r="10.3" fill="#192d28" fill-opacity="0.85"/>
<line x1="2699" y1="323" x2="2642.3" y2="341.3" stroke="#1b7a60" stroke-width="3.2"/>
<circle cx="2642.3" cy="341.3" r="6" fill="#1b7a60" stroke="#fff" stroke-opacity="0.9" stroke-width="1.3"/>
<rect x="2655.3" y="276.3" width="213.6" height="46.7" rx="7.8" fill="#1b7a60"/>
<text transform="translate(2668.31,307.00) scale(1.2866,1)" font-size="24.44" fill="#fff" stroke="#fff" stroke-width="0.68" stroke-linejoin="round" vector-effect="non-scaling-stroke" font-family="Liberation Sans, sans-serif" font-weight="700">$12.8 (+40%)</text>
<rect x="2852.9" y="560" width="120.8" height="37" rx="5" fill="#0a080a" fill-opacity="0.9" stroke="#e65250" stroke-width="2.2"/>
<text transform="translate(2859.82,584.90) scale(1.1357,1)" font-size="24.58" fill="#ef5350" stroke="#ef5350" stroke-width="0.69" stroke-linejoin="round" vector-effect="non-scaling-stroke" font-family="Liberation Sans, sans-serif" font-weight="700">R: $10.6</text>
<rect x="2854.4" y="819.9" width="119.6" height="36.6" rx="5" fill="#0a080a" fill-opacity="0.9" stroke="#239a8f" stroke-width="2.2"/>
<text transform="translate(2861.26,845.20) scale(1.1349,1)" font-size="24.58" fill="#26a69a" stroke="#26a69a" stroke-width="0.69" stroke-linejoin="round" vector-effect="non-scaling-stroke" font-family="Liberation Sans, sans-serif" font-weight="700">S: $8.20</text>
<text transform="translate(2772.70,1286.80) scale(1.1533,1)" font-size="21.67" fill="#fff" stroke="#fff" stroke-width="0.61" stroke-linejoin="round" vector-effect="non-scaling-stroke" opacity="0.235" font-family="Liberation Sans, sans-serif" font-weight="700">charts.foliotrail.com</text>
</g>
<g clip-path="url(#cv)">
<rect x="59.37" y="1415" width="37.26" height="67.0" fill="#26a69a" stroke="#1a5f9a" stroke-opacity="0.8" stroke-width="0.9"/>
<rect x="97.63" y="1446" width="37.26" height="36.0" fill="#26a69a" stroke="#1a5f9a" stroke-opacity="0.8" stroke-width="0.9"/>
<rect x="135.89" y="1392" width="37.26" height="90.0" fill="#26a69a" stroke="#1a5f9a" stroke-opacity="0.8" stroke-width="0.9"/>
<rect x="174.15" y="1446.3" width="37.26" height="35.7" fill="#ef5350" stroke="#1a5f9a" stroke-opacity="0.8" stroke-width="0.9"/>
<rect x="212.41" y="1448.2" width="37.26" height="33.8" fill="#ef5350" stroke="#1a5f9a" stroke-opacity="0.8" stroke-width="0.9"/>
<rect x="250.67" y="1455" width="37.26" height="27.0" fill="#26a69a" stroke="#1a5f9a" stroke-opacity="0.8" stroke-width="0.9"/>
<rect x="288.93" y="1457.8" width="37.26" height="24.2" fill="#26a69a" stroke="#1a5f9a" stroke-opacity="0.8" stroke-width="0.9"/>
<rect x="327.19" y="1454.4" width="37.26" height="27.6" fill="#ef5350" stroke="#1a5f9a" stroke-opacity="0.8" stroke-width="0.9"/>
<rect x="365.45" y="1450.1" width="37.26" height="31.9" fill="#26a69a" stroke="#1a5f9a" stroke-opacity="0.8" stroke-width="0.9"/>
<rect x="403.71" y="1449.1" width="37.26" height="32.9" fill="#ef5350" stroke="#1a5f9a" stroke-opacity="0.8" stroke-width="0.9"/>
<rect x="441.97" y="1453.2" width="37.26" height="28.8" fill="#ef5350" stroke="#1a5f9a" stroke-opacity="0.8" stroke-width="0.9"/>
<rect x="480.23" y="1450.4" width="37.26" height="31.6" fill="#ef5350" stroke="#1a5f9a" stroke-opacity="0.8" stroke-width="0.9"/>
<rect x="518.49" y="1441.4" width="37.26" height="40.6" fill="#ef5350" stroke="#1a5f9a" stroke-opacity="0.8" stroke-width="0.9"/>
<rect x="556.75" y="1450.1" width="37.26" height="31.9" fill="#26a69a" stroke="#1a5f9a" stroke-opacity="0.8" stroke-width="0.9"/>
<rect x="595.01" y="1451.3" width="37.26" height="30.7" fill="#ef5350" stroke="#1a5f9a" stroke-opacity="0.8" stroke-width="0.9"/>
<rect x="633.27" y="1469" width="37.26" height="13.0" fill="#26a69a" stroke="#1a5f9a" stroke-opacity="0.8" stroke-width="0.9"/>
<rect x="671.53" y="1461.2" width="37.26" height="20.8" fill="#ef5350" stroke="#1a5f9a" stroke-opacity="0.8" stroke-width="0.9"/>
<rect x="709.79" y="1470.9" width="37.26" height="11.1" fill="#26a69a" stroke="#1a5f9a" stroke-opacity="0.8" stroke-width="0.9"/>
<rect x="748.05" y="1473.4" width="37.26" height="8.6" fill="#ef5350" stroke="#1a5f9a" stroke-opacity="0.8" stroke-width="0.9"/>
<rect x="786.31" y="1465.3" width="37.26" height="16.7" fill="#ef5350" stroke="#1a5f9a" stroke-opacity="0.8" stroke-width="0.9"/>
<rect x="824.57" y="1466.2" width="37.26" height="15.8" fill="#ef5350" stroke="#1a5f9a" stroke-opacity="0.8" stroke-width="0.9"/>
<rect x="862.83" y="1467.1" width="37.26" height="14.9" fill="#26a69a" stroke="#1a5f9a" stroke-opacity="0.8" stroke-width="0.9"/>
<rect x="901.09" y="1474.3" width="37.26" height="7.7" fill="#26a69a" stroke="#1a5f9a" stroke-opacity="0.8" stroke-width="0.9"/>
<rect x="939.35" y="1460.3" width="37.26" height="21.7" fill="#ef5350" stroke="#1a5f9a" stroke-opacity="0.8" stroke-width="0.9"/>
<rect x="977.61" y="1468.7" width="37.26" height="13.3" fill="#ef5350" stroke="#1a5f9a" stroke-opacity="0.8" stroke-width="0.9"/>
<rect x="1015.87" y="1464.3" width="37.26" height="17.7" fill="#ef5350" stroke="#1a5f9a" stroke-opacity="0.8" stroke-width="0.9"/>
<rect x="1054.13" y="1453.2" width="37.26" height="28.8" fill="#26a69a" stroke="#1a5f9a" stroke-opacity="0.8" stroke-width="0.9"/>
<rect x="1092.39" y="1473.4" width="37.26" height="8.6" fill="#ef5350" stroke="#1a5f9a" stroke-opacity="0.8" stroke-width="0.9"/>
<rect x="1130.65" y="1473.4" width="37.26" height="8.6" fill="#26a69a" stroke="#1a5f9a" stroke-opacity="0.8" stroke-width="0.9"/>
<rect x="1168.91" y="1472.4" width="37.26" height="9.6" fill="#ef5350" stroke="#1a5f9a" stroke-opacity="0.8" stroke-width="0.9"/>
<rect x="1207.17" y="1473.4" width="37.26" height="8.6" fill="#ef5350" stroke="#1a5f9a" stroke-opacity="0.8" stroke-width="0.9"/>
<rect x="1245.43" y="1469.3" width="37.26" height="12.7" fill="#26a69a" stroke="#1a5f9a" stroke-opacity="0.8" stroke-width="0.9"/>
<rect x="1283.69" y="1462.2" width="37.26" height="19.8" fill="#26a69a" stroke="#1a5f9a" stroke-opacity="0.8" stroke-width="0.9"/>
<rect x="1321.95" y="1466.5" width="37.26" height="15.5" fill="#ef5350" stroke="#1a5f9a" stroke-opacity="0.8" stroke-width="0.9"/>
<rect x="1360.21" y="1467.1" width="37.26" height="14.9" fill="#26a69a" stroke="#1a5f9a" stroke-opacity="0.8" stroke-width="0.9"/>
<rect x="1398.47" y="1465.3" width="37.26" height="16.7" fill="#ef5350" stroke="#1a5f9a" stroke-opacity="0.8" stroke-width="0.9"/>
<rect x="1436.73" y="1466.2" width="37.26" height="15.8" fill="#ef5350" stroke="#1a5f9a" stroke-opacity="0.8" stroke-width="0.9"/>
<rect x="1474.99" y="1468.4" width="37.26" height="13.6" fill="#26a69a" stroke="#1a5f9a" stroke-opacity="0.8" stroke-width="0.9"/>
<rect x="1513.25" y="1467.1" width="37.26" height="14.9" fill="#26a69a" stroke="#1a5f9a" stroke-opacity="0.8" stroke-width="0.9"/>
<rect x="1551.51" y="1434.2" width="37.26" height="47.8" fill="#26a69a" stroke="#1a5f9a" stroke-opacity="0.8" stroke-width="0.9"/>
<rect x="1589.77" y="1399.1" width="37.26" height="82.9" fill="#26a69a" stroke="#1a5f9a" stroke-opacity="0.8" stroke-width="0.9"/>
<rect x="1628.03" y="1405.3" width="37.26" height="76.7" fill="#ef5350" stroke="#1a5f9a" stroke-opacity="0.8" stroke-width="0.9"/>
<rect x="1666.29" y="1428.9" width="37.26" height="53.1" fill="#26a69a" stroke="#1a5f9a" stroke-opacity="0.8" stroke-width="0.9"/>
<rect x="1704.55" y="1440.1" width="37.26" height="41.9" fill="#26a69a" stroke="#1a5f9a" stroke-opacity="0.8" stroke-width="0.9"/>
<rect x="1742.81" y="1449.4" width="37.26" height="32.6" fill="#ef5350" stroke="#1a5f9a" stroke-opacity="0.8" stroke-width="0.9"/>
<rect x="1781.07" y="1455.3" width="37.26" height="26.7" fill="#ef5350" stroke="#1a5f9a" stroke-opacity="0.8" stroke-width="0.9"/>
<rect x="1819.33" y="1462.2" width="37.26" height="19.8" fill="#26a69a" stroke="#1a5f9a" stroke-opacity="0.8" stroke-width="0.9"/>
<rect x="1857.59" y="1448.5" width="37.26" height="33.5" fill="#ef5350" stroke="#1a5f9a" stroke-opacity="0.8" stroke-width="0.9"/>
<rect x="1895.85" y="1450.4" width="37.26" height="31.6" fill="#ef5350" stroke="#1a5f9a" stroke-opacity="0.8" stroke-width="0.9"/>
<rect x="1934.11" y="1442.3" width="37.26" height="39.7" fill="#26a69a" stroke="#1a5f9a" stroke-opacity="0.8" stroke-width="0.9"/>
<rect x="1972.37" y="1445.1" width="37.26" height="36.9" fill="#26a69a" stroke="#1a5f9a" stroke-opacity="0.8" stroke-width="0.9"/>
<rect x="2010.63" y="1387.3" width="37.26" height="94.7" fill="#26a69a" stroke="#1a5f9a" stroke-opacity="0.8" stroke-width="0.9"/>
<rect x="2048.89" y="1377.4" width="37.26" height="104.6" fill="#ef5350" stroke="#1a5f9a" stroke-opacity="0.8" stroke-width="0.9"/>
<rect x="2087.15" y="1332" width="37.26" height="150.0" fill="#26a69a" stroke="#1a5f9a" stroke-opacity="0.8" stroke-width="0.9"/>
<rect x="2125.41" y="1360" width="37.26" height="122.0" fill="#26a69a" stroke="#1a5f9a" stroke-opacity="0.8" stroke-width="0.9"/>
<rect x="2163.67" y="1382.4" width="37.26" height="99.6" fill="#ef5350" stroke="#1a5f9a" stroke-opacity="0.8" stroke-width="0.9"/>
<rect x="2201.93" y="1416.2" width="37.26" height="65.8" fill="#26a69a" stroke="#1a5f9a" stroke-opacity="0.8" stroke-width="0.9"/>
<rect x="2240.19" y="1417.5" width="37.26" height="64.5" fill="#ef5350" stroke="#1a5f9a" stroke-opacity="0.8" stroke-width="0.9"/>
<rect x="2278.45" y="1439.2" width="37.26" height="42.8" fill="#ef5350" stroke="#1a5f9a" stroke-opacity="0.8" stroke-width="0.9"/>
<rect x="2316.71" y="1391.1" width="37.26" height="90.9" fill="#26a69a" stroke="#1a5f9a" stroke-opacity="0.8" stroke-width="0.9"/>
</g>
<g clip-path="url(#cr)">
<line x1="78" x2="2334.8" y1="1487" y2="1487" stroke="#0b420b" stroke-opacity="0.85" stroke-width="2" stroke-dasharray="7.6 3.3"/>
<line x1="78" x2="2334.8" y1="1635" y2="1635" stroke="#7a1216" stroke-opacity="0.85" stroke-width="2" stroke-dasharray="7.6 3.3"/>
<line x1="78" x2="2332" y1="1571" y2="1571" stroke="#9a9a9a" stroke-opacity="0.42" stroke-width="1.8" stroke-dasharray="1.8 3.6"/>
<polyline points="78.0,1611.2 116.3,1608.8 154.5,1595.7 192.8,1607.5 231.0,1610.6 269.3,1610.6 307.6,1609.4 345.8,1617.5 384.1,1611.2 422.3,1619.3 460.6,1626.1 498.9,1631.1 537.1,1634.8 575.4,1633.3 613.6,1634.5 651.9,1621.8 690.2,1623.0 728.4,1613.7 766.7,1619.6 804.9,1626.8 843.2,1628.3 881.5,1615.9 919.7,1610.6 958.0,1614.3 996.2,1615.9 1034.5,1619.9 1072.8,1619.0 1111.0,1622.1 1149.3,1618.4 1187.5,1622.1 1225.8,1627.7 1264.1,1620.6 1302.3,1577.7 1340.6,1592.9 1378.8,1572.4 1417.1,1591.1 1455.4,1614.3 1493.6,1612.2 1531.9,1606.0 1570.1,1567.8 1608.4,1542.9 1646.7,1560.0 1684.9,1535.2 1723.2,1514.0 1761.4,1538.9 1799.7,1550.7 1838.0,1547.6 1876.2,1560.3 1914.5,1564.7 1952.7,1535.8 1991.0,1530.5 2029.3,1486.4 2067.5,1541.1 2105.8,1532.7 2144.0,1520.2 2182.3,1562.2 2220.6,1551.3 2258.8,1550.7 2297.1,1552.2 2335.3,1547.0" fill="none" stroke="#800080" stroke-width="3.5" stroke-linecap="square" stroke-linejoin="round" />
</g>
<rect x="78.9" y="22.6" width="503.7" height="216.1" rx="29" ry="15.8" fill="#05060b" fill-opacity="0.93" stroke="#272c38" stroke-width="2.5"/>
<text transform="translate(150.00,73.10) scale(1.0813,1)" font-size="18.76" fill="#d9dde8" stroke="#d9dde8" stroke-width="0.53" stroke-linejoin="round" vector-effect="non-scaling-stroke" font-family="Liberation Sans, sans-serif" font-weight="700">TECHNICAL SNAPSHOT</text>
<text transform="translate(150.24,118.00) scale(0.9866,1)" font-size="17.45" fill="#8c92a0" stroke="#8c92a0" stroke-width="0.49" stroke-linejoin="round" vector-effect="non-scaling-stroke" font-family="Liberation Sans, sans-serif" font-weight="700">PRICE</text>
<text transform="translate(451.41,120.70) scale(1.2750,1)" font-size="18.47" fill="#fff" stroke="#fff" stroke-width="0.52" stroke-linejoin="round" vector-effect="non-scaling-stroke" font-family="Liberation Sans, sans-serif" font-weight="700">$9.15</text>
<text transform="translate(150.15,172.30) scale(1.0588,1)" font-size="17.45" fill="#8c92a0" stroke="#8c92a0" stroke-width="0.49" stroke-linejoin="round" vector-effect="non-scaling-stroke" font-family="Liberation Sans, sans-serif" font-weight="700">EMA50</text>
<text transform="translate(438.70,175.10) scale(1.2985,1)" font-size="18.47" fill="#f050d7" stroke="#f050d7" stroke-width="0.52" stroke-linejoin="round" vector-effect="non-scaling-stroke" font-family="Liberation Sans, sans-serif" font-weight="700">$11.77</text>
<line x1="63" x2="3040" y1="124.55" y2="124.55" stroke="#7d92a1" stroke-opacity="0.125" stroke-width="1.5"/>
<line x1="63" x2="3040" y1="477.20" y2="477.20" stroke="#7d92a1" stroke-opacity="0.125" stroke-width="1.5"/>
<line x1="63" x2="3040" y1="829.85" y2="829.85" stroke="#7d92a1" stroke-opacity="0.125" stroke-width="1.5"/>
<line x1="63" x2="3040" y1="1182.50" y2="1182.50" stroke="#7d92a1" stroke-opacity="0.125" stroke-width="1.5"/>
<line x1="63" x2="3040" y1="300.88" y2="300.88" stroke="#7d92a1" stroke-opacity="0.08" stroke-width="1.2" stroke-dasharray="1.3 3.2"/>
<line x1="63" x2="3040" y1="653.52" y2="653.52" stroke="#7d92a1" stroke-opacity="0.08" stroke-width="1.2" stroke-dasharray="1.3 3.2"/>
<line x1="63" x2="3040" y1="1006.17" y2="1006.17" stroke="#7d92a1" stroke-opacity="0.08" stroke-width="1.2" stroke-dasharray="1.3 3.2"/>
<rect x="61.5" y="15.5" width="2980.0" height="1626.8" fill="none" stroke="#6e6e6e" stroke-width="3.1"/>
<line x1="60" x2="3043" y1="1317.50" y2="1317.50" stroke="#6e6e6e" stroke-width="3.1"/>
<line x1="60" x2="3043" y1="1480.50" y2="1480.50" stroke="#6e6e6e" stroke-width="3.1"/>
<line x1="49.3" x2="60" y1="124.55" y2="124.55" stroke="#fff" stroke-width="3.2"/>
<text transform="translate(15.04,131.60) scale(1.1470,1)" font-size="19.93" fill="#fff" stroke="#fff" stroke-width="0.56" stroke-linejoin="round" vector-effect="non-scaling-stroke" font-family="Liberation Sans, sans-serif" font-weight="700">60</text>
<line x1="49.3" x2="60" y1="477.20" y2="477.20" stroke="#fff" stroke-width="3.2"/>
<text transform="translate(15.57,484.25) scale(1.1094,1)" font-size="19.93" fill="#fff" stroke="#fff" stroke-width="0.56" stroke-linejoin="round" vector-effect="non-scaling-stroke" font-family="Liberation Sans, sans-serif" font-weight="700">45</text>
<line x1="49.3" x2="60" y1="829.85" y2="829.85" stroke="#fff" stroke-width="3.2"/>
<text transform="translate(15.39,836.90) scale(1.1306,1)" font-size="19.93" fill="#fff" stroke="#fff" stroke-width="0.56" stroke-linejoin="round" vector-effect="non-scaling-stroke" font-family="Liberation Sans, sans-serif" font-weight="700">30</text>
<line x1="49.3" x2="60" y1="1182.50" y2="1182.50" stroke="#fff" stroke-width="3.2"/>
<text transform="translate(16.05,1189.55) scale(1.0873,1)" font-size="19.93" fill="#fff" stroke="#fff" stroke-width="0.56" stroke-linejoin="round" vector-effect="non-scaling-stroke" font-family="Liberation Sans, sans-serif" font-weight="700">15</text>
<line x1="56" x2="60" y1="300.88" y2="300.88" stroke="#8a8a8a" stroke-width="1.8"/>
<line x1="56" x2="60" y1="653.52" y2="653.52" stroke="#8a8a8a" stroke-width="1.8"/>
<line x1="56" x2="60" y1="1006.17" y2="1006.17" stroke="#8a8a8a" stroke-width="1.8"/>
<line x1="49.3" x2="60" y1="1524.39" y2="1524.39" stroke="#fff" stroke-width="3.2"/>
<text transform="translate(15.04,1531.44) scale(1.1470,1)" font-size="19.93" fill="#fff" stroke="#fff" stroke-width="0.56" stroke-linejoin="round" vector-effect="non-scaling-stroke" font-family="Liberation Sans, sans-serif" font-weight="700">60</text>
<line x1="49.3" x2="60" y1="1579.69" y2="1579.69" stroke="#fff" stroke-width="3.2"/>
<text transform="translate(15.57,1586.74) scale(1.1094,1)" font-size="19.93" fill="#fff" stroke="#fff" stroke-width="0.56" stroke-linejoin="round" vector-effect="non-scaling-stroke" font-family="Liberation Sans, sans-serif" font-weight="700">45</text>
<line x1="49.3" x2="60" y1="1635.00" y2="1635.00" stroke="#fff" stroke-width="3.2"/>
<text transform="translate(15.39,1642.05) scale(1.1306,1)" font-size="19.93" fill="#fff" stroke="#fff" stroke-width="0.56" stroke-linejoin="round" vector-effect="non-scaling-stroke" font-family="Liberation Sans, sans-serif" font-weight="700">30</text>
<line x1="56" x2="60" y1="1496.74" y2="1496.74" stroke="#8a8a8a" stroke-width="1.8"/>
<line x1="56" x2="60" y1="1552.04" y2="1552.04" stroke="#8a8a8a" stroke-width="1.8"/>
<line x1="56" x2="60" y1="1607.35" y2="1607.35" stroke="#8a8a8a" stroke-width="1.8"/>
<line x1="3043" x2="3054.6" y1="1292.40" y2="1292.40" stroke="#fff" stroke-width="3.2"/>
<text transform="translate(3061.89,1300.05) scale(1.0505,1)" font-size="19.93" fill="#fff" stroke="#fff" stroke-width="0.56" stroke-linejoin="round" vector-effect="non-scaling-stroke" font-family="Liberation Sans, sans-serif" font-weight="700">4</text>
<line x1="3043" x2="3054.6" y1="1184.30" y2="1184.30" stroke="#fff" stroke-width="3.2"/>
<text transform="translate(3061.52,1191.95) scale(1.1297,1)" font-size="19.93" fill="#fff" stroke="#fff" stroke-width="0.56" stroke-linejoin="round" vector-effect="non-scaling-stroke" font-family="Liberation Sans, sans-serif" font-weight="700">5</text>
<line x1="3043" x2="3054.6" y1="1076.20" y2="1076.20" stroke="#fff" stroke-width="3.2"/>
<text transform="translate(3061.33,1083.85) scale(1.1649,1)" font-size="19.93" fill="#fff" stroke="#fff" stroke-width="0.56" stroke-linejoin="round" vector-effect="non-scaling-stroke" font-family="Liberation Sans, sans-serif" font-weight="700">6</text>
<line x1="3043" x2="3054.6" y1="968.10" y2="968.10" stroke="#fff" stroke-width="3.2"/>
<text transform="translate(3061.19,975.75) scale(1.1958,1)" font-size="19.93" fill="#fff" stroke="#fff" stroke-width="0.56" stroke-linejoin="round" vector-effect="non-scaling-stroke" font-family="Liberation Sans, sans-serif" font-weight="700">7</text>
<line x1="3043" x2="3054.6" y1="860.00" y2="860.00" stroke="#fff" stroke-width="3.2"/>
<text transform="translate(3061.46,867.65) scale(1.1412,1)" font-size="19.93" fill="#fff" stroke="#fff" stroke-width="0.56" stroke-linejoin="round" vector-effect="non-scaling-stroke" font-family="Liberation Sans, sans-serif" font-weight="700">8</text>
<line x1="3043" x2="3054.6" y1="751.90" y2="751.90" stroke="#fff" stroke-width="3.2"/>
<text transform="translate(3061.39,759.55) scale(1.1589,1)" font-size="19.93" fill="#fff" stroke="#fff" stroke-width="0.56" stroke-linejoin="round" vector-effect="non-scaling-stroke" font-family="Liberation Sans, sans-serif" font-weight="700">9</text>
<line x1="3043" x2="3054.6" y1="643.80" y2="643.80" stroke="#fff" stroke-width="3.2"/>
<text transform="translate(3061.54,651.45) scale(1.0958,1)" font-size="19.93" fill="#fff" stroke="#fff" stroke-width="0.56" stroke-linejoin="round" vector-effect="non-scaling-stroke" font-family="Liberation Sans, sans-serif" font-weight="700">10</text>
<line x1="3043" x2="3054.6" y1="535.70" y2="535.70" stroke="#fff" stroke-width="3.2"/>
<text transform="translate(3061.48,543.35) scale(1.1441,1)" font-size="19.93" fill="#fff" stroke="#fff" stroke-width="0.56" stroke-linejoin="round" vector-effect="non-scaling-stroke" font-family="Liberation Sans, sans-serif" font-weight="700">11</text>
<line x1="3043" x2="3054.6" y1="427.60" y2="427.60" stroke="#fff" stroke-width="3.2"/>
<text transform="translate(3061.54,435.25) scale(1.0931,1)" font-size="19.93" fill="#fff" stroke="#fff" stroke-width="0.56" stroke-linejoin="round" vector-effect="non-scaling-stroke" font-family="Liberation Sans, sans-serif" font-weight="700">12</text>
<line x1="3043" x2="3054.6" y1="319.50" y2="319.50" stroke="#fff" stroke-width="3.2"/>
<text transform="translate(3061.54,327.15) scale(1.0904,1)" font-size="19.93" fill="#fff" stroke="#fff" stroke-width="0.56" stroke-linejoin="round" vector-effect="non-scaling-stroke" font-family="Liberation Sans, sans-serif" font-weight="700">13</text>
<line x1="3043" x2="3054.6" y1="211.40" y2="211.40" stroke="#fff" stroke-width="3.2"/>
<text transform="translate(3061.58,219.05) scale(1.0590,1)" font-size="19.93" fill="#fff" stroke="#fff" stroke-width="0.56" stroke-linejoin="round" vector-effect="non-scaling-stroke" font-family="Liberation Sans, sans-serif" font-weight="700">14</text>
<line x1="3043" x2="3054.6" y1="103.30" y2="103.30" stroke="#fff" stroke-width="3.2"/>
<text transform="translate(3061.55,110.95) scale(1.0824,1)" font-size="19.93" fill="#fff" stroke="#fff" stroke-width="0.56" stroke-linejoin="round" vector-effect="non-scaling-stroke" font-family="Liberation Sans, sans-serif" font-weight="700">15</text>
<line x1="3043" x2="3047" y1="1238.35" y2="1238.35" stroke="#8a8a8a" stroke-width="1.8"/>
<line x1="3043" x2="3047" y1="1130.25" y2="1130.25" stroke="#8a8a8a" stroke-width="1.8"/>
<line x1="3043" x2="3047" y1="1022.15" y2="1022.15" stroke="#8a8a8a" stroke-width="1.8"/>
<line x1="3043" x2="3047" y1="914.05" y2="914.05" stroke="#8a8a8a" stroke-width="1.8"/>
<line x1="3043" x2="3047" y1="805.95" y2="805.95" stroke="#8a8a8a" stroke-width="1.8"/>
<line x1="3043" x2="3047" y1="697.85" y2="697.85" stroke="#8a8a8a" stroke-width="1.8"/>
<line x1="3043" x2="3047" y1="589.75" y2="589.75" stroke="#8a8a8a" stroke-width="1.8"/>
<line x1="3043" x2="3047" y1="481.65" y2="481.65" stroke="#8a8a8a" stroke-width="1.8"/>
<line x1="3043" x2="3047" y1="373.55" y2="373.55" stroke="#8a8a8a" stroke-width="1.8"/>
<line x1="3043" x2="3047" y1="265.45" y2="265.45" stroke="#8a8a8a" stroke-width="1.8"/>
<line x1="3043" x2="3047" y1="157.35" y2="157.35" stroke="#8a8a8a" stroke-width="1.8"/>
<line x1="3043" x2="3047" y1="49.25" y2="49.25" stroke="#8a8a8a" stroke-width="1.8"/>
<line x1="3043" x2="3054.6" y1="1435.39" y2="1435.39" stroke="#fff" stroke-width="3.2"/>
<text transform="translate(3061.55,1443.04) scale(1.0824,1)" font-size="19.93" fill="#fff" stroke="#fff" stroke-width="0.56" stroke-linejoin="round" vector-effect="non-scaling-stroke" font-family="Liberation Sans, sans-serif" font-weight="700">15</text>
<line x1="3043" x2="3054.6" y1="1388.79" y2="1388.79" stroke="#fff" stroke-width="3.2"/>
<text transform="translate(3061.70,1396.44) scale(1.1210,1)" font-size="19.93" fill="#fff" stroke="#fff" stroke-width="0.56" stroke-linejoin="round" vector-effect="non-scaling-stroke" font-family="Liberation Sans, sans-serif" font-weight="700">30</text>
<line x1="3043" x2="3054.6" y1="1342.18" y2="1342.18" stroke="#fff" stroke-width="3.2"/>
<text transform="translate(3061.87,1349.83) scale(1.1000,1)" font-size="19.93" fill="#fff" stroke="#fff" stroke-width="0.56" stroke-linejoin="round" vector-effect="non-scaling-stroke" font-family="Liberation Sans, sans-serif" font-weight="700">45</text>
<line x1="3043" x2="3047" y1="1458.70" y2="1458.70" stroke="#8a8a8a" stroke-width="1.8"/>
<line x1="3043" x2="3047" y1="1412.09" y2="1412.09" stroke="#8a8a8a" stroke-width="1.8"/>
<line x1="3043" x2="3047" y1="1365.49" y2="1365.49" stroke="#8a8a8a" stroke-width="1.8"/>
<line x1="3043" x2="3047" y1="1318.88" y2="1318.88" stroke="#8a8a8a" stroke-width="1.8"/>
<line x1="3043" x2="3054.6" y1="1626.20" y2="1626.20" stroke="#fff" stroke-width="3.2"/>
<text transform="translate(3061.87,1633.85) scale(1.1131,1)" font-size="19.93" fill="#fff" stroke="#fff" stroke-width="0.56" stroke-linejoin="round" vector-effect="non-scaling-stroke" font-family="Liberation Sans, sans-serif" font-weight="700">40</text>
<line x1="3043" x2="3054.6" y1="1582.20" y2="1582.20" stroke="#fff" stroke-width="3.2"/>
<text transform="translate(3061.87,1589.85) scale(1.1026,1)" font-size="19.93" fill="#fff" stroke="#fff" stroke-width="0.56" stroke-linejoin="round" vector-effect="non-scaling-stroke" font-family="Liberation Sans, sans-serif" font-weight="700">48</text>
<line x1="3043" x2="3054.6" y1="1538.20" y2="1538.20" stroke="#fff" stroke-width="3.2"/>
<text transform="translate(3061.53,1545.85) scale(1.1237,1)" font-size="19.93" fill="#fff" stroke="#fff" stroke-width="0.56" stroke-linejoin="round" vector-effect="non-scaling-stroke" font-family="Liberation Sans, sans-serif" font-weight="700">56</text>
<line x1="3043" x2="3054.6" y1="1494.20" y2="1494.20" stroke="#fff" stroke-width="3.2"/>
<text transform="translate(3061.38,1501.85) scale(1.1000,1)" font-size="19.93" fill="#fff" stroke="#fff" stroke-width="0.56" stroke-linejoin="round" vector-effect="non-scaling-stroke" font-family="Liberation Sans, sans-serif" font-weight="700">64</text>
<line x1="3043" x2="3047" y1="1604.20" y2="1604.20" stroke="#8a8a8a" stroke-width="1.8"/>
<line x1="3043" x2="3047" y1="1560.20" y2="1560.20" stroke="#8a8a8a" stroke-width="1.8"/>
<line x1="3043" x2="3047" y1="1516.20" y2="1516.20" stroke="#8a8a8a" stroke-width="1.8"/>
<line x1="78.00" x2="78.00" y1="1644" y2="1655.8" stroke="#fff" stroke-width="3.2"/>
<text transform="translate(76.1,1702.9) rotate(-45) translate(-47.40,6.85) scale(1.2857,1)" font-size="19.93" fill="#fff" stroke="#fff" stroke-width="0.56" stroke-linejoin="round" vector-effect="non-scaling-stroke" font-family="Liberation Sans, sans-serif" font-weight="700">2021-04</text>
<line x1="192.78" x2="192.78" y1="1644" y2="1647.9" stroke="#8a8a8a" stroke-width="1.8"/>
<line x1="307.56" x2="307.56" y1="1644" y2="1655.8" stroke="#fff" stroke-width="3.2"/>
<text transform="translate(305.7,1702.9) rotate(-45) translate(-47.41,6.85) scale(1.2982,1)" font-size="19.93" fill="#fff" stroke="#fff" stroke-width="0.56" stroke-linejoin="round" vector-effect="non-scaling-stroke" font-family="Liberation Sans, sans-serif" font-weight="700">2021-10</text>
<line x1="422.34" x2="422.34" y1="1644" y2="1647.9" stroke="#8a8a8a" stroke-width="1.8"/>
<line x1="537.12" x2="537.12" y1="1644" y2="1655.8" stroke="#fff" stroke-width="3.2"/>
<text transform="translate(535.2,1702.9) rotate(-45) translate(-47.40,6.85) scale(1.2857,1)" font-size="19.93" fill="#fff" stroke="#fff" stroke-width="0.56" stroke-linejoin="round" vector-effect="non-scaling-stroke" font-family="Liberation Sans, sans-serif" font-weight="700">2022-04</text>
<line x1="651.90" x2="651.90" y1="1644" y2="1647.9" stroke="#8a8a8a" stroke-width="1.8"/>
<line x1="766.68" x2="766.68" y1="1644" y2="1655.8" stroke="#fff" stroke-width="3.2"/>
<text transform="translate(764.8,1702.9) rotate(-45) translate(-47.41,6.85) scale(1.2982,1)" font-size="19.93" fill="#fff" stroke="#fff" stroke-width="0.56" stroke-linejoin="round" vector-effect="non-scaling-stroke" font-family="Liberation Sans, sans-serif" font-weight="700">2022-10</text>
<line x1="881.46" x2="881.46" y1="1644" y2="1647.9" stroke="#8a8a8a" stroke-width="1.8"/>
<line x1="996.24" x2="996.24" y1="1644" y2="1655.8" stroke="#fff" stroke-width="3.2"/>
<text transform="translate(994.3,1702.9) rotate(-45) translate(-47.40,6.85) scale(1.2857,1)" font-size="19.93" fill="#fff" stroke="#fff" stroke-width="0.56" stroke-linejoin="round" vector-effect="non-scaling-stroke" font-family="Liberation Sans, sans-serif" font-weight="700">2023-04</text>
<line x1="1111.02" x2="1111.02" y1="1644" y2="1647.9" stroke="#8a8a8a" stroke-width="1.8"/>
<line x1="1225.80" x2="1225.80" y1="1644" y2="1655.8" stroke="#fff" stroke-width="3.2"/>
<text transform="translate(1223.9,1702.9) rotate(-45) translate(-47.41,6.85) scale(1.2982,1)" font-size="19.93" fill="#fff" stroke="#fff" stroke-width="0.56" stroke-linejoin="round" vector-effect="non-scaling-stroke" font-family="Liberation Sans, sans-serif" font-weight="700">2023-10</text>
<line x1="1340.58" x2="1340.58" y1="1644" y2="1647.9" stroke="#8a8a8a" stroke-width="1.8"/>
<line x1="1455.36" x2="1455.36" y1="1644" y2="1655.8" stroke="#fff" stroke-width="3.2"/>
<text transform="translate(1453.5,1702.9) rotate(-45) translate(-47.40,6.85) scale(1.2857,1)" font-size="19.93" fill="#fff" stroke="#fff" stroke-width="0.56" stroke-linejoin="round" vector-effect="non-scaling-stroke" font-family="Liberation Sans, sans-serif" font-weight="700">2024-04</text>
<line x1="1570.14" x2="1570.14" y1="1644" y2="1647.9" stroke="#8a8a8a" stroke-width="1.8"/>
<line x1="1684.92" x2="1684.92" y1="1644" y2="1655.8" stroke="#fff" stroke-width="3.2"/>
<text transform="translate(1683.0,1702.9) rotate(-45) translate(-47.41,6.85) scale(1.2982,1)" font-size="19.93" fill="#fff" stroke="#fff" stroke-width="0.56" stroke-linejoin="round" vector-effect="non-scaling-stroke" font-family="Liberation Sans, sans-serif" font-weight="700">2024-10</text>
<line x1="1799.70" x2="1799.70" y1="1644" y2="1647.9" stroke="#8a8a8a" stroke-width="1.8"/>
<line x1="1914.48" x2="1914.48" y1="1644" y2="1655.8" stroke="#fff" stroke-width="3.2"/>
<text transform="translate(1912.6,1702.9) rotate(-45) translate(-47.40,6.85) scale(1.2857,1)" font-size="19.93" fill="#fff" stroke="#fff" stroke-width="0.56" stroke-linejoin="round" vector-effect="non-scaling-stroke" font-family="Liberation Sans, sans-serif" font-weight="700">2025-04</text>
<line x1="2029.26" x2="2029.26" y1="1644" y2="1647.9" stroke="#8a8a8a" stroke-width="1.8"/>
<line x1="2144.04" x2="2144.04" y1="1644" y2="1655.8" stroke="#fff" stroke-width="3.2"/>
<text transform="translate(2142.1,1702.9) rotate(-45) translate(-47.41,6.85) scale(1.2982,1)" font-size="19.93" fill="#fff" stroke="#fff" stroke-width="0.56" stroke-linejoin="round" vector-effect="non-scaling-stroke" font-family="Liberation Sans, sans-serif" font-weight="700">2025-10</text>
<line x1="2258.82" x2="2258.82" y1="1644" y2="1647.9" stroke="#8a8a8a" stroke-width="1.8"/>
<line x1="2373.60" x2="2373.60" y1="1644" y2="1655.8" stroke="#fff" stroke-width="3.2"/>
<line x1="2488.38" x2="2488.38" y1="1644" y2="1647.9" stroke="#8a8a8a" stroke-width="1.8"/>
<line x1="2603.16" x2="2603.16" y1="1644" y2="1655.8" stroke="#fff" stroke-width="3.2"/>
<line x1="2717.94" x2="2717.94" y1="1644" y2="1647.9" stroke="#8a8a8a" stroke-width="1.8"/>
<line x1="2832.72" x2="2832.72" y1="1644" y2="1655.8" stroke="#fff" stroke-width="3.2"/>
<line x1="2947.50" x2="2947.50" y1="1644" y2="1647.9" stroke="#8a8a8a" stroke-width="1.8"/>
<text transform="translate(3115.1,703.2) rotate(-90) translate(-1.94,0.00) scale(1.1606,1)" font-size="24.73" fill="#fff" stroke="#fff" stroke-width="0.69" stroke-linejoin="round" vector-effect="non-scaling-stroke" font-family="Liberation Sans, sans-serif" font-weight="700">Price</text>
<text transform="translate(3115.1,1585) rotate(-90) translate(-1.85,0.00) scale(1.1083,1)" font-size="24.73" fill="#fff" stroke="#fff" stroke-width="0.69" stroke-linejoin="round" vector-effect="non-scaling-stroke" font-family="Liberation Sans, sans-serif" font-weight="700">RSI</text>
<text transform="translate(3115.1,1483.8) rotate(-90) translate(-0.22,0.00) scale(1.2002,1)" font-size="24.73" fill="#fff" stroke="#fff" stroke-width="0.69" stroke-linejoin="round" vector-effect="non-scaling-stroke" font-family="Liberation Sans, sans-serif" font-weight="700">Volume</text>
<text transform="translate(3115.1,1358.2) rotate(-90) translate(-1.87,0.00) scale(1.2122,1)" font-size="24.73" fill="#fff" stroke="#fff" stroke-width="0.69" stroke-linejoin="round" vector-effect="non-scaling-stroke" font-family="Liberation Sans, sans-serif" font-weight="700">10</text>
<text transform="translate(3104.8,1326.6) rotate(-90) translate(-0.94,0.00) scale(1.4367,1)" font-size="17.45" fill="#fff" stroke="#fff" stroke-width="0.49" stroke-linejoin="round" vector-effect="non-scaling-stroke" font-family="Liberation Sans, sans-serif" font-weight="700">6</text></svg></body></html>
